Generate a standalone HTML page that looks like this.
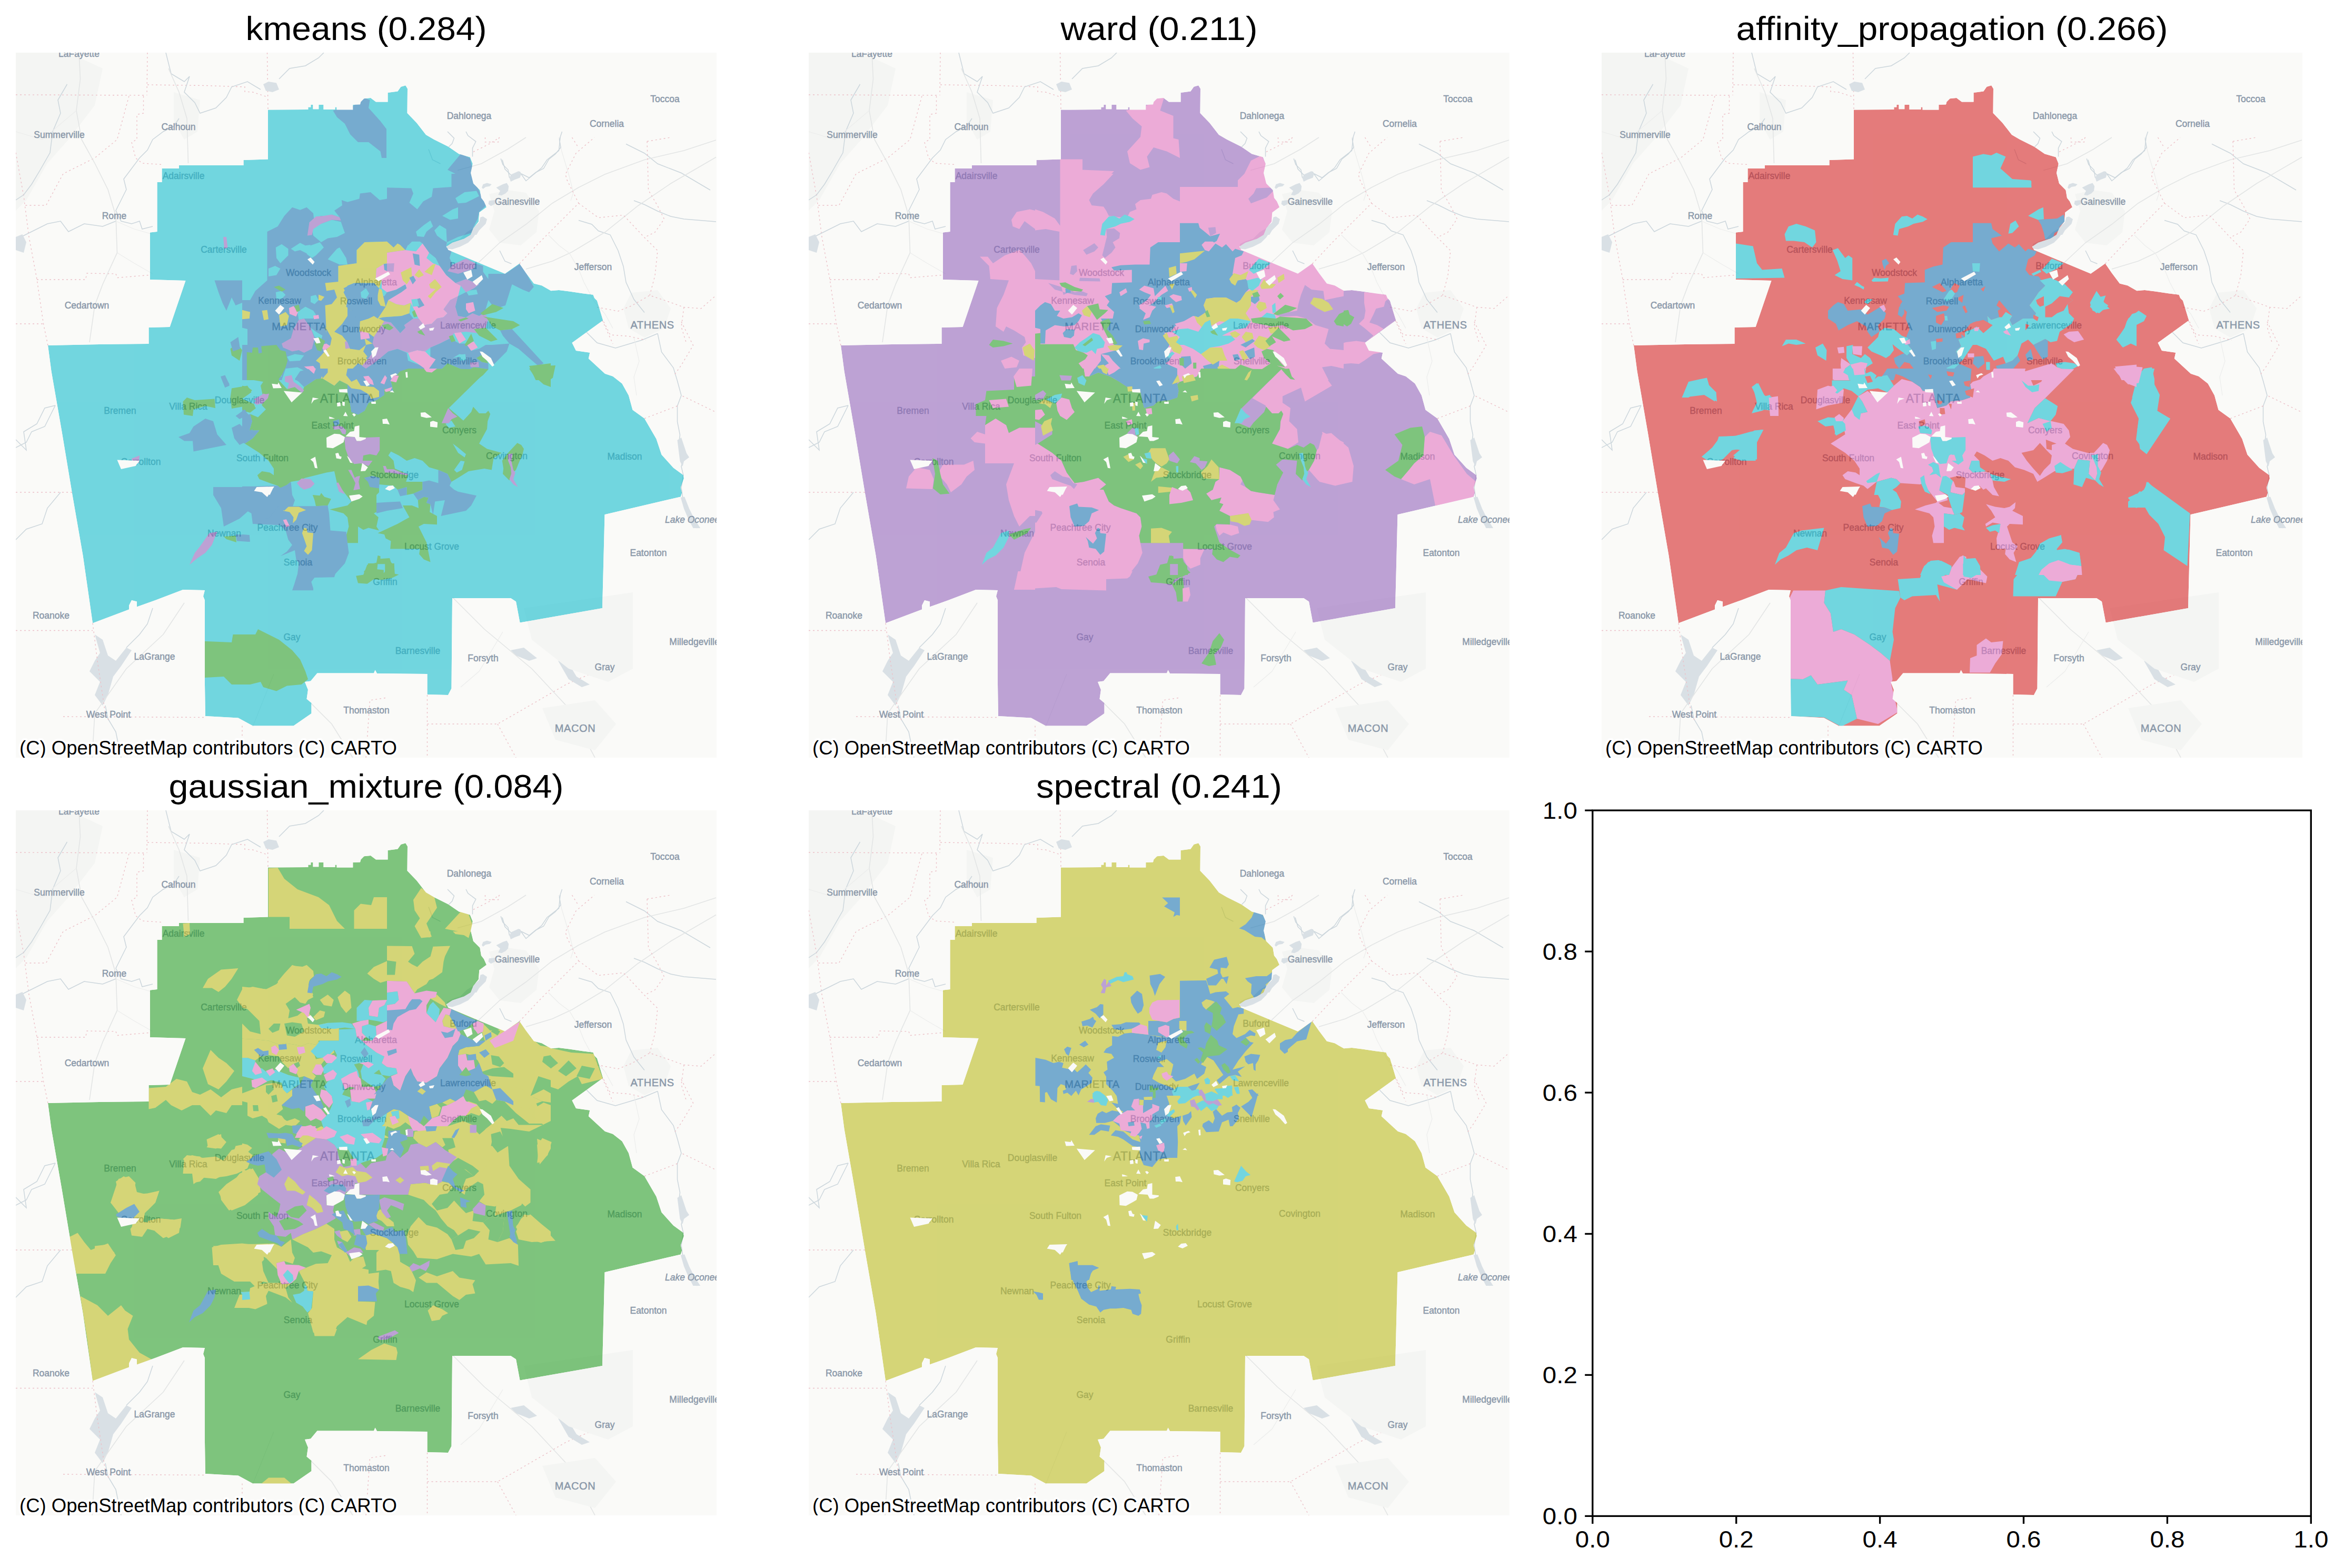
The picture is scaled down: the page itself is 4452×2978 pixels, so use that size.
<!DOCTYPE html>
<html><head><meta charset="utf-8"><title>clusters</title>
<style>html,body{margin:0;padding:0;background:#fff}svg{display:block}text{font-family:"Liberation Sans",sans-serif}.t{font-size:63px;fill:#000}.k{font-size:44px;fill:#000}.at{font-size:36px;fill:#000;stroke:#fff;stroke-width:8;paint-order:stroke;stroke-linejoin:round}.l{font-size:17.5px;fill:#8a98a9;stroke:#8a98a9;stroke-width:0.45;text-anchor:middle}.L{font-size:20px;fill:#8a98a9;stroke:#8a98a9;stroke-width:0.5;text-anchor:middle;letter-spacing:0.6px}.b{fill:none;stroke:#ecc0c7;stroke-width:1.4;stroke-dasharray:3 5}.r{fill:none;stroke:#e3e5e5;stroke-width:1.6}.r2{fill:none;stroke:#ecedec;stroke-width:1.2}.w{fill:none;stroke:#ccd6dc;stroke-width:1.5}.wf{fill:#d9e0e5;stroke:none}.u{fill:#f4f5f3;stroke:none}</style></head><body>
<svg width="4452" height="2978" viewBox="0 0 4452 2978">
<defs>
<clipPath id="cp"><rect x="0" y="0" width="1331" height="1339"/></clipPath>
<g id="bm" clip-path="url(#cp)">
<rect x="0" y="0" width="1331" height="1339" fill="#fafaf8"/>
<path class="u" d="M0 0 100 0 165 30 150 100 100 165 60 210 20 280 0 300Z"/>
<path class="u" d="M300 75 350 90 345 150 320 165 300 130Z"/>
<path class="b" d="M0 80 247.5 81"/>
<path class="b" d="M250 0 249 81"/>
<path class="b" d="M250 61 360 62.5 435 65 435 74 450 75 477.5 84"/>
<path class="b" d="M477.5 0 479 107.5"/>
<path class="b" d="M215 82.5 192.5 165 150 200 90 230 57.5 290 17.5 290"/>
<path class="b" d="M0 190 15 272.5 25 350 40 430 52.5 515 61 556"/>
<path class="b" d="M242.5 82.5 242.5 115 230 117.5 230 165 220 170 227.5 200 240 210 277.5 212.5"/>
<path class="b" d="M40 431 132.5 431 135 419 190 420 192.5 427.5 252.5 422.5"/>
<path class="b" d="M0 515 52.5 515"/>
<path class="w" d="M260 330 240 335 235 320 220 325 200 320 190 300 200 280 210 260 205 240 220 220 235 200 250 185 260 165 280 150 300 140 310 125"/>
<path class="w" d="M190 320 165 330 130 325 100 340 85 320 60 325 30 340 10 350"/>
<path class="w" d="M97.5 60 80 90 85 115 70 150 65 190 45 225 30 250 15 270 0 280"/>
<path class="w" d="M285 0 295 40 320 55 330 45 320 75 340 95 350 115 380 105 400 85 410 65 440 55 465 70"/>
<path class="w" d="M500 50 520 30 550 25 575 10 585 0"/>
<path class="wf" d="M470 60 480 55 495 57.5 500 70 487.5 75 475 72.5Z"/>
<path class="wf" d="M0 350 12.5 345 20 360 15 380 0 375Z"/>
<path class="w" d="M0 750 20 740 30 720 55 710 65 690 75 670"/>
<path class="r" d="M290 30 310 75 325 125 327.5 210"/>
<path class="r" d="M120 0 122.5 50 115 110 125 165 150 210 175 260 190 310 192.5 380 165 440 150 480 140 550"/>
<path class="r2" d="M190 320 225 335 260 345"/>
<path class="r2" d="M0 150 50 165 115 110"/>
<path class="r2" d="M192.5 380 225 400 260 420"/>
<path class="wf" d="M819 363.5 829 358.5 844 353.5 856.5 341 869 333.5 879 336 869 351 859 361 844 368.5 829 373.5 819 372.2Z"/>
<path class="u" d="M899 268.5 934 261 969 266 994 301 989 341 959 366 919 361 899 336 909 301Z"/>
<path class="u" d="M1169 456 1219 451 1244 486 1231.5 523.5 1194 541 1164 523.5 1154 486Z"/>
<path class="w" d="M924 203.5 929 221 941.5 233.5"/>
<path class="w" d="M956.5 226 969 243.5 984 231 999 218.5 1009 203.5 1031.5 186 1034 161"/>
<path class="w" d="M784 183.5 791.5 203.5 806.5 211"/>
<path class="w" d="M919 376 929 396 941.5 401"/>
<path class="w" d="M1069 318.5 1094 326 1106.5 338.5 1129 346 1144 376 1154 406 1159 436 1174 468.5 1194 493.5"/>
<path class="w" d="M1159 173.5 1194 191 1219 211 1264 228.5 1319 261"/>
<path class="w" d="M1174 281 1194 288.5 1219 301 1244 311 1269 316 1330 321"/>
<path class="r" d="M839 223.5 884 211 934 183.5 969 161"/>
<path class="r" d="M879 398.5 919 361 969 326 1019 286 1069 256 1119 231 1194 203.5 1269 186 1330 166"/>
<path class="r" d="M969 411 1019 396 1056.5 378.5 1119 341 1181.5 291 1244 248.5 1330 198.5"/>
<path class="r2" d="M1011.5 346 1031.5 366 1051.5 381 1069 411 1079 436 1099 473.5 1119 496 1134 523.5"/>
<path class="r2" d="M1031.5 161 1036.5 186 1051.5 236 1059 266 1054 281"/>
<path class="b" d="M891.5 161 891.5 169.8 916.5 169.8 917.8 161"/>
<path class="b" d="M869 188.5 899 173.5 919 161"/>
<path class="b" d="M956.5 401 994 361 1069 286 1046.5 241 1044 231 1064 191 1099 161"/>
<path class="b" d="M1069 286 1106.5 313.5 1154 308.5 1194 351 1219 376 1214 423.5 1204 461"/>
<path class="b" d="M1056.5 161 1069 181"/>
<path class="b" d="M1199 168.5 1201.5 261 1219 291 1231.5 316 1214 341 1194 351"/>
<path class="b" d="M1199 168.5 1244 161"/>
<path class="b" d="M1104 483.5 1144 491 1169 481 1204 461 1234 471 1269 483.5 1301.5 486 1330 461"/>
<path class="b" d="M1269 483.5 1264 521 1274 553"/>
<path class="b" d="M1114 508.5 1134 553"/>
<path class="w" d="M1219 533.5 1226.5 568.5 1249 598.5 1256.5 623.5 1264 651 1256.5 671 1256.5 701 1261.5 726 1259 743.5 1269 768.5 1264 786 1267.8 802.2 1264 826 1266.5 843.5 1274 866 1284 886 1294 903"/>
<path class="wf" d="M1256.5 736 1264 731 1274 761 1279 768.5 1269 776 1266.5 786 1261.5 776Z"/>
<path class="wf" d="M1262.8 844.8 1270.2 843.5 1279 866 1289 886 1300.2 903 1286.5 903 1276.5 883.5 1269 866Z"/>
<path class="w" d="M1084 531 1104 551 1139 561 1189 546 1219 533.5"/>
<path class="b" d="M1194 694.8 1256.5 671"/>
<path class="b" d="M1266.5 652.2 1331 683.5"/>
<path class="b" d="M1264 511 1286.5 556 1264 593.5 1251.5 611"/>
<path class="b" d="M1116.5 511 1129 536 1164 538.5 1196.5 546"/>
<path class="r2" d="M1174 541 1184 586 1174 616 1179 651"/>
<path class="wf" d="M150 1105 165 1115 175 1145 190 1155 210 1130 220 1135 200 1165 185 1185 175 1220 165 1240 150 1220 160 1195 140 1175 150 1155 160 1140Z"/>
<path class="w" d="M170 1240 175 1265 190 1290 200 1339"/>
<path class="w" d="M210 1130 235 1105 250 1085 260 1055"/>
<path class="b" d="M0 835 107.5 835"/>
<path class="b" d="M0 1097.5 146 1097.5"/>
<path class="b" d="M146 1083.5 155 1155 170 1255 177.5 1270"/>
<path class="b" d="M90 1261 360 1262.5"/>
<path class="b" d="M430 1278.5 430 1339"/>
<path class="b" d="M781.5 1220 781.5 1339"/>
<path class="b" d="M781.5 1275 915 1275 950 1255 1045 1200 1172 1145"/>
<path class="b" d="M915 1275 950 1339"/>
<path class="b" d="M1112.5 1055 1172 1047.5"/>
<path class="b" d="M665 1339 672.5 1230 705 1225"/>
<path class="w" d="M0 735 20 755 15 720 40 705 55 675 75 670"/>
<path class="w" d="M0 925 20 905 50 895 60 865 85 835"/>
<path class="wf" d="M940 1135 965 1130 990 1150 975 1155 950 1145Z"/>
<path class="wf" d="M1030 1155 1050 1160 1065 1185 1090 1200 1075 1205 1050 1190Z"/>
<path class="r" d="M145 1339 150 1255 210 1170 280 1105 320 1045"/>
<path class="r" d="M560 1235 600 1275 640 1339"/>
<path class="r" d="M830 1035 890 1095 980 1170 1050 1245 1100 1339"/>
<path class="r2" d="M450 1280 480 1205 490 1180"/>
<path class="r2" d="M845 1205 880 1175 925 1100"/>
<path class="u" d="M965 1055 1172 1025 1172 1170 1125 1195 1050 1170 980 1115Z"/>
<path class="u" d="M1000 1245 1100 1230 1140 1275 1100 1325 1025 1305Z"/>
<path class="wf" d="M870 331.2 880 322.5 882.5 312.5 887.5 311.2 895 316.2 892.5 325 887.5 330 880 337.5 875 346 862.5 346Z"/>
<path class="wf" d="M887.5 250 895 247.5 903.8 250 900 253.8 892.5 255 887.5 258.8 885 256.2Z"/>
<path class="wf" d="M912.5 256.2 925 250 932.5 247.5 936.2 253.8 935 262.5 930 267.5 922.5 271.2 916.2 270 920 262.5Z"/>
<path class="wf" d="M941.2 231.2 955 225 960 230 957.5 237.5 947.5 241.2 940 245 937.5 237.5Z"/>
<path class="wf" d="M898.8 281.2 910 280 910 287.5 902.5 291.2 897.5 287.5Z"/>
<path class="w" d="M960 230 975 237.5 987.5 227.5 1002.5 220 1012.5 202.5 1025 192.5 1035 180 1032.5 165 1037.5 150"/>
<path class="w" d="M937.5 237.5 935 222.5 925 212.5 921.2 201.2"/>
<path class="w" d="M855 150 858.8 157.5 873.8 168.8 867.5 181.2 867.5 197.5"/>
<path class="w" d="M820 150 832.5 162.5 828.8 172.5 822.5 178.8"/>
<text class="l" x="120" y="8">LaFayette</text>
<text class="l" x="82.5" y="162">Summerville</text>
<text class="l" x="309" y="147">Calhoun</text>
<text class="l" x="861" y="126">Dahlonega</text>
<text class="l" x="1122.5" y="140.5">Cornelia</text>
<text class="l" x="1233" y="93.5">Toccoa</text>
<text class="l" x="318.5" y="239.5">Adairsville</text>
<text class="l" x="187" y="316">Rome</text>
<text class="l" x="952.5" y="289">Gainesville</text>
<text class="l" x="395" y="380">Cartersville</text>
<text class="l" x="1096.5" y="413">Jefferson</text>
<text class="l" x="556" y="424">Woodstock</text>
<text class="l" x="850" y="410.5">Buford</text>
<text class="l" x="684" y="442">Alpharetta</text>
<text class="l" x="135" y="485.5">Cedartown</text>
<text class="l" x="501" y="477">Kennesaw</text>
<text class="l" x="646.5" y="477.5">Roswell</text>
<text class="L" x="538.5" y="526.5">MARIETTA</text>
<text class="l" x="661" y="531">Dunwoody</text>
<text class="l" x="859" y="523.5">Lawrenceville</text>
<text class="L" x="1209" y="524">ATHENS</text>
<text class="l" x="657.5" y="591.5">Brookhaven</text>
<text class="l" x="841.5" y="592">Snellville</text>
<text class="l" x="425" y="665.5">Douglasville</text>
<text class="L" x="630" y="665" style="font-size:23px">ATLANTA</text>
<text class="l" x="198" y="685.5">Bremen</text>
<text class="l" x="327.5" y="678">Villa Rica</text>
<text class="l" x="601.5" y="714">East Point</text>
<text class="l" x="842.5" y="723">Conyers</text>
<text class="l" x="468.5" y="775.5">South Fulton</text>
<text class="l" x="932.5" y="771.5">Covington</text>
<text class="l" x="1156.5" y="772.5">Madison</text>
<text class="l" x="237.5" y="783">Carrollton</text>
<text class="l" x="719" y="807.5">Stockbridge</text>
<text class="l" x="516" y="908">Peachtree City</text>
<text class="l" x="396" y="918.5">Newnan</text>
<text class="l" x="790" y="943.5">Locust Grove</text>
<text class="l" x="1285" y="893" font-style="italic">Lake Oconee</text>
<text class="l" x="1201.5" y="956">Eatonton</text>
<text class="l" x="536" y="974">Senoia</text>
<text class="l" x="701.5" y="1011">Griffin</text>
<text class="l" x="67" y="1075">Roanoke</text>
<text class="l" x="524.5" y="1115.5">Gay</text>
<text class="l" x="763.5" y="1141.5">Barnesville</text>
<text class="l" x="263.5" y="1153">LaGrange</text>
<text class="l" x="887.5" y="1156">Forsyth</text>
<text class="l" x="1118.5" y="1173">Gray</text>
<text class="l" x="1289" y="1124.5">Milledgeville</text>
<text class="l" x="666" y="1255">Thomaston</text>
<text class="l" x="176" y="1262.5">West Point</text>
<text class="L" x="1062.5" y="1289.5">MACON</text>
</g>
<path id="ol" d="M61 556 159 554 252.5 553 252.5 522 292.5 521 322.5 433 255 431 255 341.5 268.5 340 268.5 246 277.5 246 277.5 220 310 220 310 214 432.5 214 432.5 204 479 202.5 479 108.5 555.3 108 555.3 103.5 560.3 103.5 560.3 99 564.5 99 564.5 107.3 575.3 107.3 575.3 99 584.5 99 584.5 108 606.5 108 606.5 103.5 609.5 103.5 609.5 108.5 640.3 108.5 640.3 99 654 98.5 655.3 93.5 661.5 87.3 674 86 684 93.5 706.5 93.5 706.5 76 725.3 73.5 731.5 64.8 740.3 62.3 744 68.5 743.5 114.8 761.5 133.5 779 156 794 164.8 821.5 178.5 841.5 192.3 862.8 198.5 867.8 211 864 228.5 869 248.5 881.5 261 884 276 889 282.3 894 293.5 880.3 303.5 879 321 869 333.5 864 346 851.5 353.5 829 361 817.8 368.5 821.5 374.8 884 401 929 419.8 956.5 400.5 969 418.5 984 438.5 999 442.3 1016.5 452.3 1031.5 451 1051.5 453.5 1076.5 457.3 1096.5 459.8 1099 466 1104 471 1115.3 508.5 1056.5 551 1064 566 1090.3 569.8 1087.8 581 1119 609.8 1134 614.8 1151.5 628.5 1164 651 1171.5 678.5 1194 694.8 1216.5 733.5 1226.5 763.5 1249 788.5 1267.8 802.3 1269 808.5 1262.8 826 1265.3 836 1262.8 843.5 1118.5 877.3 1114 1055 957.5 1082.5 950 1042.5 940 1036 829 1036 827.5 1207.5 821 1220 781.5 1219 781.5 1180 686 1179 682.5 1172.5 680 1178.5 572.5 1178.5 560 1193.5 549 1195 555 1210 552.5 1227.5 561.5 1235 561.5 1255 527.5 1278.5 450 1278.5 422.5 1263.5 360 1260 359 1200 359 1040 356 1032.5 359 1021 317.5 1020 265 1040 230 1052.5 230 1042.5 220 1040 215 1050 215 1057.5 146 1083.5 127.5 955 107.5 840 87.5 720 67.5 605Z"/>
<clipPath id="co"><use href="#ol"/></clipPath>
<path id="ho" fill="#fafaf8" d="M492.5 490 502.5 479 510 485 500 497.5ZM554 392.5 560 389 567.5 397.5 564 402.5ZM682.5 429 707.5 416 711 421 689 434ZM850 417.5 865 412.5 867.5 425 857.5 431ZM867.5 435 885 422.5 887.5 430 875 442.5ZM192.5 773.5 235 775 227.5 785 200 791ZM452.5 832.5 457.5 825 491 824 477.5 844 467.5 835ZM565 542.5 575 541.2 578.8 551.2 571.2 552.5ZM583.8 566.2 588.8 563.8 596.2 576.2 592.5 577.5ZM675 567.5 682.5 560 688.8 559.5 683.8 575 677.5 580ZM765 521.2 773.8 513.8 777.5 521.2 768.8 525.8ZM785 523.8 795 522 792.5 527.5 786.2 528ZM881.2 567.5 886.2 568 902.5 580 908.8 593.8 905 596.2 895 585 886.2 577.5ZM711.2 612.5 721.2 608.8 725 611.2 717.5 613.8 713.8 618.8ZM740 607 743.8 606.2 744.5 617 741.2 617.5ZM660 623.8 666.2 622.5 672.5 631.2 666.2 633.8ZM710 644.5 715 641.2 718.8 645.5ZM486.2 628.8 497.5 630 498.8 626.2 505 637 488.8 637.5ZM508.8 642.5 543.8 645.5 523.8 664.2ZM563.8 655 575.5 657 566.2 660 561.2 667ZM613.8 639.5 629.5 638.8 630 645.8 614.5 645ZM610 665 616.2 663.8 617 671.2 610.5 672ZM620 662.5 625 663.8 624.5 671.2 620.5 670ZM675 663 683.8 662.5 683.8 667 675.5 667ZM622 690 626.2 682 630.5 690.5ZM638.8 686.2 642.5 685 646.2 688 642.5 691.2ZM595 691.2 600 692.5 606.2 695 595.5 695.5ZM696.2 696.2 705 695 710 706.2 703.8 705 697 705ZM768.8 683.8 777.5 683 790 692.5 780 693.8 769.5 691.2ZM787 701.2 792.5 699.2 801.2 702 800.5 712 787 710.5ZM590 731.2 605 723.8 615 724.5 625 730 622.5 740 616.2 743.8 602.5 751.2 590.5 750ZM626.2 728.8 635 720 642.5 718.8 643.8 710 652.5 708 652.5 730 665 731.2 664.5 733.8 655 737.5 647.5 737.5 643.8 730ZM607 761.2 612.5 760 615 766.2 618.8 767.5 617.5 772 608.8 770.5ZM628.8 765.5 632.5 768.8 640 779.5 635 778.8ZM559.5 772.5 568.8 767.5 573 789.5 568 788.8 565 777.5ZM655 795 658 779.5 668.8 787.5 663.8 794.5ZM701.2 828.8 707.5 823 716.2 822 720 827 710 832ZM633 841.2 652.5 838.8 658.8 843 652.5 847.5 637.5 852.5ZM480 824.5 490 824.5 482.5 840 480 838.8Z"/>
</defs>
<rect width="4452" height="2978" fill="#fff"/>
<g transform="translate(30 100)">
<use href="#bm"/>
<g opacity="0.6" clip-path="url(#co)">
<use href="#ol" fill="#17becf"/>
<path fill="#1f77b4" d="M477.5 340 497.5 330 510 310 525 293.8 540 298.8 552.5 293.8 565 305 566.2 315 580 310 597.5 312.5 600 307.5 615 312.5 605 300 620 290 618.8 280 630 283.8 652.5 277.5 653.8 267.5 673.8 265 682.5 272.5 691.2 280 705 277.5 705 256.2 751.2 257.5 755 267.5 747.5 285 762.5 297.5 773.8 282.5 790 273.8 792.5 257.5 827.5 255 827.5 230 865 230 880 262.5 887.5 280 893.8 290 880 302.5 877.5 315 870 330 865 342.5 840 350 818.8 360 817.5 368.8 827.5 377.5 823.8 390 830 402.5 820 415 805 405 797.5 390 785 380 772.5 362.5 760 375 745 365 740 375 705 380 705 358.8 662.5 360 647.5 375 647.5 400 612.5 405 612.5 435 577.5 435 477.5 432.5ZM455 452.5 477.5 432.5 577.5 435 612.5 435 615 450 622.5 455 630 442.5 642.5 437.5 680 437.5 690 447.5 687.5 460 700 462.5 705 455 722.5 450 740 440 742.5 447.5 732.5 455 707.5 470 702.5 482.5 687.5 480 687.5 505 697.5 502.5 732.5 500 747.5 495 755 505 737.5 517.5 740 522.5 730 532.5 712.5 512.5 700 510 680 540 705 555 707.5 567.5 725 562.5 742.5 570 745 585 785 600 805 605 780 622 430 622 430 555 440 555 440 525 430 522.5 430 470 445 470ZM805 405 820 415 830 402.5 855 391.2 872.5 400 887.5 405 887.5 416.2 897.5 430 897.5 420 930 420 957.5 401.2 970 420 983.8 445 975 455 962.5 450 942.5 440 930 480 915 485 905 480 897.5 470 890 495 880 500 867.5 495 855 502.5 840 500 835 482.5 840 462.5 855 455 870 447.5 880 440 855 430 835 437.5 817.5 422.5ZM787.5 560 805 552.5 825 542.5 842.5 552.5 855 552.5 865 566.2 880 562.5 892.5 575 875 580 855 575 842.5 572.5 830 580 797.5 582.5 787.5 577.5ZM920 527.5 942.5 525 1002.5 590 992.5 595 975 580 955 562.5 937.5 552.5 925 537.5ZM905 555 937.5 552.5 932.5 567.5 907.5 592.5 892.5 575 880 562.5 892.5 555ZM787.5 577.5 830 580 855 575 875 580 885 587.5 897.5 590 897.5 601.2 870 597.5 855 605 820 590 805 605 785 600Z"/>
<path fill="#17becf" d="M557.5 322.5 566.2 315 580 325 600 317.5 617.5 321.2 625 342.5 610 350 592.5 352.5 580 360 565 347.5 562.5 335ZM522.5 372.5 540 361.2 550 366.2 560 365 555 382.5 540 375 530 377.5ZM493.8 370 505 363.8 517.5 372.5 517.5 385 502.5 400 495 390ZM552.5 382.5 560 366.2 577.5 360 585 370 570 385 562.5 390ZM592.5 392.5 610 372.5 615 370 627.5 390 630 402.5 615 402.5ZM480 410 492.5 405 502.5 410 495 422.5 480 425ZM760 340 775 327.5 787.5 318.8 792.5 330 780 340 775 350 762.5 348.8ZM795 337.5 805 327.5 817.5 335 818.8 360 810 355 800 347.5ZM810 310 830 297.5 840 293.8 840 315 825 317.5ZM835 276.2 852.5 265 875 262.5 880 272.5 855 285 840 286.2ZM746.2 365 752.5 358.8 767.5 358.8 772.5 362.5 760 377.5 752.5 375ZM493.8 455 505 452.5 512.5 460 505 467.5 495 467.5ZM560 462.5 570 460 575 470 567.5 477.5 560 473.8ZM535 492.5 550 482.5 565 490 570 497.5 565 505 547.5 505 537.5 507.5ZM560 522.5 570 530 582.5 537.5 580 545 567.5 540ZM515 577.5 530 572.5 547.5 575 540 585 520 586.2ZM512.5 600 535 597.5 550 605 540 615 530 622 505 622ZM493.8 598.8 503.8 597.5 505 615 495 613.8ZM842.5 573.8 853.8 572.5 855 583.8 843.8 585ZM855 452.5 875 450 877.5 458.8 860 461.2Z"/>
<path fill="#bcbd22" d="M647.5 375 662.5 360 705 358.8 717.5 370 725 362.5 730 365 740 375 705 380 705 400 697.5 402.5 685 410 683.8 427.5 695 432.5 690 447.5 680 437.5 642.5 437.5 630 442.5 622.5 455 615 450 612.5 435 612.5 405 647.5 400ZM612.5 435 622.5 455 630 470 627.5 482.5 637.5 490 630 500 620 515 605 530 590 532.5 587.5 480 600 477.5 610 465 605 450 590 452.5 587.5 437.5ZM587.5 520 590 532.5 605 530 620 537.5 630 550 635 562.5 652.5 565 665 555 662.5 542.5 677.5 552.5 680 565 665 580 675 590 665 597.5 650 590 635 605 630 622 580 622 577.5 590 570 585 580 575 597.5 555 600 542.5ZM687.5 447.5 695 450 702.5 482.5 695 485 687.5 470ZM707.5 470 722.5 477.5 737.5 480 750 475 747.5 495 732.5 500 697.5 502.5 687.5 505 680 500 702.5 482.5ZM653.8 510 670 505 680 500 700 510 680 540 670 532.5 652.5 530ZM430 488.8 445 492.5 443.8 505 430 506.2ZM467.5 490 477.5 488.8 480 506.2 471.2 508ZM500 498.8 512.5 492.5 518.8 500 515 517.5 502.5 520ZM575 459.5 586.2 463.8 580 471.2 575 470Z"/>
<path fill="#e377c2" d="M705 380 740 375 760 377.5 772.5 362.5 785 380 780 390 792.5 400 805 405 817.5 422.5 835 437.5 845 442.5 840 462.5 825 470 812.5 487.5 820 495 812.5 502.5 800 505 790 515 775 517.5 765 505 757.5 490 750 475 737.5 480 722.5 477.5 707.5 470 732.5 455 742.5 447.5 740 440 722.5 450 705 455 695 447.5 695 432.5 683.8 427.5 685 410 697.5 402.5 705 400ZM855 476.2 868.8 473.8 872.5 490 860 495 855 487.5ZM745 570 762.5 565 777.5 567.5 787.5 577.5 797.5 582.5 785 600 805 605 792.5 610 780 602.5 762.5 590 750 582.5ZM653.8 528.8 670 532.5 672.5 542.5 655 545ZM832.5 532.5 845 530 855 545 842.5 552.5ZM855 552.5 870 548.8 877.5 560 865 566.2ZM518.8 485 527.5 481.2 536.2 492.5 532.5 501.2 520 496.2ZM565 499.5 575 498 576.2 505 566.2 506.2ZM578.8 555 590 552.5 597.5 557.5 585 566.2ZM547.5 596.2 565 595 572.5 605 570 622 555 622 560 605Z"/>
<path fill="#bcbd22" d="M731.2 417.5 751.2 407.5 752.5 425 742.5 440 735 432.5ZM757.5 422.5 766.2 411.2 775 422.5 765 427.5ZM776.2 416.2 791.2 402.5 797.5 401.2 790 422.5ZM785 440 796.2 430 808.8 445 797.5 455 787.5 467.5 782.5 462.5 797.5 448.8 787.5 447.5Z"/>
<path fill="#9467bd" d="M680 540 700 510 712.5 512.5 730 532.5 740 522.5 737.5 517.5 755 505 765 505 775 517.5 790 515 800 505 812.5 502.5 820 495 812.5 487.5 825 470 840 462.5 835 482.5 840 500 855 502.5 867.5 495 880 500 890 495 897.5 505 892.5 522.5 897.5 530 875 532.5 855 530 832.5 532.5 825 542.5 805 552.5 787.5 560 777.5 567.5 762.5 565 745 570 725 562.5 707.5 567.5 705 555ZM680 540 705 555 707.5 567.5 692.5 580 680 590 665 600 657.5 595 670 580 682.5 562.5 677.5 552.5ZM820 415 830 402.5 855 391.2 872.5 400 870 410 855 415 840 420ZM835 437.5 855 430 880 440 870 447.5 855 455 845 442.5ZM527.5 525 537.5 507.5 547.5 505 560 522.5 567.5 542.5 562.5 562.5 547.5 570 537.5 565 525 567.5 507.5 560 505 552.5 522.5 542.5ZM553.8 347.5 557.5 322.5 570 311.2 585 310 600 307.5 615 312.5 617.5 318.8 600 317.5 580 325 565 335 562.5 346.2ZM705 400.5 718.8 400 717.5 416.2 705 415ZM862.5 588.8 878.8 587.5 880 597 863.8 597.5ZM625 548.8 633.8 547.5 635 561.2 626.2 562.5Z"/>
<path fill="#2ca02c" d="M438.8 568.8 448.8 570 450 560 460 560 461.2 571.2 467.5 570 466.2 557.5 495 555 502.5 565 512.5 567.5 516.2 585 512.5 597.5 505 612.5 497.5 622 438.8 622ZM725 615 745 602.5 805 605 820 590 855 605 870 597.5 897.5 601.2 887.5 612.5 875 622 717.5 622ZM882.5 495 905 477.5 926.2 485 912.5 492.5 887.5 498.8ZM887.5 501.2 945 510 957.5 517.5 942.5 525 920 527.5 905 520 895 505ZM870 525 892.5 522.5 912.5 542.5 915 545 902.5 548.8 880 537.5ZM852.5 555 865 533.8 870 547.5 855 557.5ZM875 580 887.5 572.5 897.5 590 885 587.5ZM975 595 1016 590 1016 622 987.5 622ZM490 445 500 442.5 512.5 450 505 453.8ZM528.8 481.2 537.5 478.8 540 490 533.8 492.5ZM567.5 552.5 575 540 587.5 547.5 580 567.5 572.5 565ZM695 517.5 707.5 515 717.5 522.5 710 527.5 700 523.8ZM762.5 530 770 526.2 777.5 537.5 766.2 533.8ZM822.5 538.8 830 536.2 835 547.5 827.5 550ZM752.5 492.5 757.5 488.8 762.5 501.2 756.2 502.5ZM840 507.5 855 503 860 505 845 510.5ZM651.2 488.8 658.8 487.5 660 498.8 652.5 500Z"/>
<path fill="#1f77b4" d="M622.5 447.5 637.5 440 655 442.5 680 437.5 690 447.5 687.5 460 677.5 470 670 477.5 652.5 480 642.5 467.5 630 460ZM630 482.5 637.5 490 650 486.2 670 477.5 690 480 702.5 482.5 687.5 505 680 500 670 505 653.8 510 651.2 500 637.5 505 630 500ZM753.8 381.2 766.2 383.8 767.5 405 757.5 402.5ZM747.5 427.5 755 423.8 760 432.5 753.8 440ZM755 470 767.5 466.2 776.2 480 765 485ZM698.8 401.2 705 400.5 705 415 700 412.5ZM620 537.5 635 525 650 530 652.5 545 647.5 555 635 562.5 630 550ZM665 555 677.5 552.5 682.5 562.5 670 580 660 567.5ZM725 517.5 737.5 517.5 740 522.5 730 532.5ZM840 462.5 855 455 860 461.2 855 476.2 855 487.5 860 495 855 502.5 840 500 835 482.5Z"/>
<path fill="#17becf" d="M655 455 665 447.5 671.2 457.5 665 467.5 656.2 465ZM751.2 468.8 762.5 467.5 766.2 481.2 753.8 482.5Z"/>
<path fill="#2ca02c" d="M438.8 600 496.2 600 500 622.5 515 638.8 530 635 543.8 646.2 547.5 635 570 620 582.5 618.8 605 632.5 615 622.5 630 630 630 642.5 635 667.5 637.5 682.5 650 687.5 662.5 680 670 665 685 660 700 650 700 637.5 717.5 645 712.5 625 730 605 745 600 897.5 601.2 822.5 675 840 690 850 698.8 865 682.5 868.8 672.5 880 685 892.5 685 897.5 680 901.2 686.2 896.2 700 895 715 880 742.5 895 752.5 922.5 760 907.5 770 903.8 792.5 890 790 860 795 840 807.5 827.5 815 820 800 802.5 792.5 785 787.5 772.5 775 757.5 770 742.5 775 727.5 765 712.5 757.5 707.5 765 717.5 775 720 790 737.5 797.5 745 802.5 741.2 815 772.5 815 772.5 830 755 837.5 742.5 840 742.5 825 725 830 717.5 822.5 690 820 690 835 685 840 685 872.5 680 875 688.8 882.5 685 900 690 907.5 670 902.5 660 906.2 650 900 650 931.2 630 931.2 627.5 917.5 632.5 900 630 882.5 622.5 875 596.2 867.5 630 860 637.5 852.5 627.5 840 610 817.5 605 795 590 797.5 550 807.5 537.5 812.5 522.5 815 505 828.8 497.5 822.5 482.5 817.5 462.5 810 458.8 802.5 467.5 795 482.5 797.5 490 802.5 490 790 480 775 462.5 760 435 742.5 450 732.5 462.5 717.5 443.8 717.5 448.8 700 445 686.2 460 692.5 475 677.5 467.5 670 468.8 650 465 632.5 470 625 440 620ZM687.5 912.5 725 895 747.5 882.5 735 860 752.5 860 765 865 763.8 850 775 843.8 783.8 845 780 855 787.5 857.5 786.2 872.5 800 880 800 896.2 775 895 765 900 780 930 787.5 967.5 775 962.5 766.2 952.5 767.5 942.5 711.2 942.5 712.5 927.5 702.5 922.5 700 915ZM563.8 840 577.5 841.2 580 836.2 586.2 843.8 598.8 847.5 592.5 860 570 861.2 567.5 850ZM667.5 972.5 685 968.8 687.5 955 692.5 956.2 692.5 961.2 710 960 712.5 967.5 718.8 975 720 992 660 992ZM923.8 775 935 760 952.5 741.2 960 745 965 752.5 962.5 762.5 955 780 950 792.5 941.2 800 937.5 812.5 925 800 926.2 790ZM977.5 600 1016 600 1016 635 1002.5 630 990 615ZM430 632.5 440 635 448.8 641.2 440 650 430 648.8ZM430 670 448.8 668.8 456.2 675 445 683.8 430 680Z"/>
<path fill="#17becf" d="M830 742.5 840 750 855 762.5 852.5 768.8 840 760ZM845 775 852.5 776.2 847.5 792.5 837.5 797.5 832.5 792.5ZM816.2 705 827.5 698.8 835 710 822.5 712.5ZM686.2 971.2 701.2 971.2 701.2 992 686.2 992Z"/>
<path fill="#1f77b4" d="M530 620 540 605 560 600 590 600 580 617.5 570 620 547.5 635 537.5 625ZM580 600 745 600 730 605 712.5 625 717.5 645 700 637.5 700 650 685 660 670 665 662.5 680 650 687.5 637.5 682.5 635 667.5 630 642.5 630 630 615 622.5 605 632.5 582.5 618.8ZM630 642.5 637.5 637.5 655 640 690 642.5 700 637.5 700 650 685 660 670 665 662.5 680 650 687.5 637.5 682.5 635 667.5ZM602.5 700 613.8 696.2 615 705 606.2 710ZM430 677.5 442.5 687.5 445 686.2 448.8 700 443.8 717.5 462.5 717.5 450 732.5 435 742.5 430 740ZM430 823.8 453.8 823.8 490 822.5 497.5 822.5 505 828.8 522.5 815 525 840 530 850 526.2 861.2 570 861.2 592.5 860 595 875 597.5 907.5 627.5 910 630 931.2 632.5 950 625 970 605 992 537.5 992 542.5 975 532.5 962.5 530 945 502.5 956.2 515 947.5 525 935 517.5 925 512.5 907.5 502.5 897.5 450 895 447.5 875 430 865ZM430 915 443.8 916.2 445 928.8 430 927.5ZM661.2 807.5 677.5 803.8 691.2 807.5 690 827.5 672.5 825 668.8 815ZM685 855 705 853.8 730 852.5 735 865 705 870 685 875ZM802.5 792.5 820 800 827.5 815 823.8 822.5 832.5 830 840 833.8 875 841.2 865 860 855 870 807.5 880 815 850 796.2 852.5 792.5 877.5 787.5 857.5 780 855 783.8 845 775 843.8 763.8 850 755 837.5 772.5 830 772.5 815 785 812.5 802.5 817.5ZM725 830 742.5 825 742.5 840 730 842.5Z"/>
<path fill="#bcbd22" d="M507.5 870 517.5 862.5 537.5 862.5 551.2 868.8 537.5 873.8 532.5 887.5 526.2 893.8 527.5 882.5 520 872.5ZM543.8 912.5 547.5 902.5 552.5 903.8 553.8 911.2 565 912.5 562.5 945 555 953.8 547.5 946.2 552.5 937.5ZM582.5 618.8 592.5 607.5 592.5 600 630 600 627.5 612.5 637.5 625 647.5 620 655 632.5 680 635 690 642.5 690 653.8 675 657.5 670 648.8 655 640 637.5 637.5 630 630 615 622.5 605 632.5Z"/>
<path fill="#e377c2" d="M555 600 570 600 566.2 610ZM775 600 800 600 790 607.5 780 606.2ZM660 615 670 613.8 677.5 622.5 680 631.2 667.5 627.5ZM692.5 627.5 701.2 612.5 705 617.5 700 630ZM711.2 623.8 717.5 612.5 727.5 613.8 722.5 626.2ZM700 640 715 635 711.2 642.5 702.5 644.5ZM507.5 887.5 513.8 886.2 520 898.8 513.8 901.2Z"/>
<path fill="#9467bd" d="M511.2 615 523.8 612.5 527.5 625 540 633.8 547.5 641.2 543.8 646.2 530 635 516.2 638.8 518.8 627.5 511.2 625ZM451.2 658.8 467.5 650 481.2 647.5 478.8 656.2 467.5 667.5 457.5 661.2ZM623.8 730 645 730 647.5 737.5 656.2 737.5 657.5 731.2 691.2 730 691.2 755 685 765 672.5 762.5 660 765 658.8 775 677.5 775 670 785 655 780 642.5 781.2 632.5 770 626.2 752.5ZM601.2 710 612.5 708.8 620 710 627.5 717.5 626.2 725 620 723.8 615 715 605 716.2ZM808.8 703.8 821.2 675 830 685 838.8 691.2 827.5 696.2 822.5 703.8ZM533.8 817.5 542.5 808.8 560 810 567.5 818.8 560 826.2 547.5 830 540 825ZM697.5 785 702.5 785 705 791.2 717.5 791.2 732.5 797.5 745 800 743.8 802.5 725 800 710 797.5 701.2 797.5ZM631.2 792.5 637.5 792.5 643.8 807.5 647.5 805 653.8 803.8 651.2 815 653.8 828.8 641.2 831.2 645 817.5 640 807.5ZM608.8 817.5 612.5 816.2 620 830 625 838.8 613.8 833.8ZM935 762.5 943.8 761.2 941.2 775 945 792.5 948.8 797.5 945 810 953.8 825 945 820 937.5 810 941.2 800 940 787.5 935 775Z"/>
<path fill="#1f77b4" d="M537.5 970 618.8 970 610 977.5 605 996.2 567.5 997 561.2 1005 565 1017.5 565 1021.2 525 1021.2 528.8 1010 535 990Z"/>
<path fill="#2ca02c" d="M646.2 993.8 662.5 991.2 661.2 985 670 977.5 668.8 970 687.5 970 686.2 981.2 698.8 982.5 698.8 988.8 705 980 703.8 970 718.8 970 718.8 982.5 715 988.8 727.5 991.2 715 997.5 695 1001.2 680 1000 667.5 1008.8 650 1007.5ZM350 1117.5 410 1120 412.5 1105 455 1105 460 1095 500 1115 525 1135 540 1152.5 550 1175 555 1190 542.5 1200 515 1202.5 495 1212.5 470 1205 465 1195 445 1200 410 1200 395 1185 350 1187.5Z"/>
<path fill="#1f77b4" d="M309 730 330 722.5 337.5 710 360 695 375 700 382.5 725 400 745 375 750 337.5 757.5 336 737.5 320 737.5ZM410 712.5 425 705 440 720 450 715 445 735 425 745 415 732.5ZM375 825 452.5 825 500 827.5 522.5 817.5 522.5 840 530 850 510 870 500 860 480 885 450 880 445 867.5 425 885 395 900 390 865 375 840ZM417.5 915 444 916 444 929 420 927.5Z"/>
<path fill="#9467bd" d="M330 972.5 340 950 350 937.5 367.5 912.5 382.5 910 372.5 935 360 950 345 960Z"/>
<path fill="#2ca02c" d="M395 919 417.5 917.5 419 930 400 924ZM317.5 662.5 325 655 340 660 377.5 657.5 379 675 360 671 337.5 677.5 336 690 319 687.5ZM410 637.5 440 632.5 447.5 645 430 657.5 452.5 667.5 455 675 430 672.5 410 676 407.5 655ZM407.5 562.5 420 552.5 430 565 425 585 410 575Z"/>
<path fill="#1f77b4" d="M389 615 397.5 612.5 406 632.5 397.5 636Z"/>
<path fill="#9467bd" d="M452.5 665 470 647.5 480 650 470 665 457.5 669Z"/>
<path fill="#1f77b4" d="M417.5 690 435 677.5 441 687.5 425 696Z"/>
<path fill="#9467bd" d="M220 771 235 765 234 779 222.5 780Z"/>
<path fill="#1f77b4" d="M602.5 110 642.5 100 660 85 672.5 90 670 105 692.5 130 704 145 704 200 695 200 692.5 187.5 670 170 650 170 635 155 625 135 610 122.5ZM820 222.5 845 192.5 862.5 200 867.5 220 870 245 850 240 835 230ZM377.5 432.5 430 432.5 430 475 417.5 480 410 465 400 490 392.5 475 385 455ZM390 617.5 397.5 614 406 630 397.5 636ZM407.5 550 422.5 540 426 562.5 412.5 567.5Z"/>
<path fill="#2ca02c" d="M975 600 1000 595 1025 594 1020 617.5 1002.5 630 985 615Z"/>
<path fill="#9467bd" d="M394 350 400 350 402.5 370 396 372.5Z"/>
</g>
<use href="#ho"/>
<g clip-path="url(#cp)"><text class="at" x="7" y="1332.5" textLength="717" lengthAdjust="spacingAndGlyphs">(C) OpenStreetMap contributors (C) CARTO</text></g>
</g>
<text class="t" x="695.5" y="75.5" text-anchor="middle" textLength="458" lengthAdjust="spacingAndGlyphs">kmeans (0.284)</text>
<g transform="translate(1536 100)">
<use href="#bm"/>
<g opacity="0.6" clip-path="url(#co)">
<use href="#ol" fill="#9467bd"/>
<path fill="#e377c2" d="M385 317.5 395 302.5 420 297.5 430 300 430 335 410 320 400 335 387.5 330ZM325 387.5 340 387.5 350 400 372.5 385 400 375 410 385 422.5 400 430 415 430 580 407.5 575 405 560 412.5 550 410 540 390 527.5 375 520 370 530 355 520 357.5 485 370 460 380 432.5 345 430 342.5 405Z"/>
<path fill="#2ca02c" d="M342.5 555 350 545 370 547.5 387.5 552.5 370 557.5 350 560Z"/>
<path fill="#bcbd22" d="M406 560 420 552.5 429 565 427.5 585 410 575Z"/>
<path fill="#e377c2" d="M365 585 385 577.5 400 585 395 597.5 372.5 600ZM602.5 110 642.5 100 657.5 87.5 675 85 667.5 110 692.5 120 692.5 162.5 702.5 165 705 200 680 187.5 655 180 642.5 197.5 647.5 217.5 630 222.5 610 210 605 187.5 630 160 632.5 140 615 125ZM477.5 202.5 520 202.5 520 222.5 580 225 575 230 477.5 230ZM815 255 822.5 240 840 205 860 195 870 215 870 230 815 230ZM1016 448.8 1030 452.5 1055 455 1073.8 456.2 1097.5 460 1101.2 467.5 1115 507.5 1057.5 550 1065 565 1090 568.8 1072.5 572.5 1055 585 1045 591.2 1030 590 1016 591.2Z"/>
<path fill="#9467bd" d="M1016 450 1030 452.5 1055 455 1055 475 1057.5 490 1055 505 1045 515 1055 522.5 1072.5 537.5 1057.5 550 1040 547.5 1020 550 1016 551.2ZM1065 512.5 1072.5 497.5 1077.5 486.2 1092.5 482.5 1095 472.5 1101.2 467.5 1115 507.5 1097.5 520 1092.5 525 1080 517.5Z"/>
<path fill="#2ca02c" d="M997.5 510 1002.5 500 1015 490 1025 488.8 1027.5 497.5 1036.2 502.5 1030 515 1022.5 520 1015 515 1002.5 518.8Z"/>
<path fill="#e377c2" d="M1170 730 1180 720 1202 727 1225 765 1250 800 1270 817 1262 845 1202 858 1190 860 1185 835 1180 810 1150 820 1125 810 1140 792 1150 780 1167 765Z"/>
<path fill="#2ca02c" d="M1095 792.5 1120 775 1127.5 745 1112.5 725 1142.5 712.5 1165 710 1170 730 1167.5 765 1150 780 1140 792.5 1125 810 1112.5 805ZM317.5 667.5 335 660 337.5 642.5 390 640 390 615 430 615 430 712.5 400 712.5 380 722.5 375 707.5 355 695 335 707.5 337.5 690 317.5 690Z"/>
<path fill="#e377c2" d="M342.5 660 375 657.5 380 672.5 350 675ZM389 615 400 600 425 600 422.5 632.5 395 635ZM335 780 335 707.5 355 695 375 707.5 380 722.5 400 712.5 430 712.5 430 780 390 780ZM307.5 732.5 320 720 335 725 335 742.5 315 740ZM390 780 430 780 430 880 420 880 400 900 390 880 380 850 375 820ZM400 995 410 950 425 920 430 910 430 1020 390 1020Z"/>
<path fill="#17becf" d="M329 972.5 337.5 950 350 940 365 912.5 380 907.5 380 920 370 940 355 955 340 962.5Z"/>
<path fill="#2ca02c" d="M380 915 410 905 422.5 902.5 415 912.5 390 925Z"/>
<path fill="#e377c2" d="M185 827.5 190 805 205 787.5 230 792.5 237.5 810 235 829ZM245 800 255 782.5 295 782.5 312.5 775 315 792.5 300 805 290 820 270 835 262.5 820Z"/>
<path fill="#2ca02c" d="M235 770 245 775 250 800 255 820 267.5 837.5 250 839 236 827.5 240 800Z"/>
<path fill="#e377c2" d="M955 795 965 765 975 725 992.5 722.5 1025 750 1035 785 1032.5 815 1000 822.5 970 815ZM397.5 985 615 985 610 995 605 998.5 565 1000 565 1021.5 480 1019 470 1015 390 1020Z"/>
<path fill="#2ca02c" d="M645 995 665 990 667.5 975 680 972.5 685 955 692.5 957.5 692.5 967.5 710 967.5 717.5 980 725 987.5 710 995 695 1000 690 1010 670 1007.5 650 1006ZM690 1010 710 995 712.5 1015 710 1042.5 700 1042.5 697.5 1025Z"/>
<path fill="#9467bd" d="M686 971 702.5 971 702.5 987.5 686 987.5Z"/>
<path fill="#e377c2" d="M710 1017.5 722.5 1015 725 1030 720 1042.5 711 1042.5Z"/>
<path fill="#2ca02c" d="M746 1160 760 1140 767.5 1117.5 780 1102.5 789 1115 782.5 1130 770 1142.5 774 1162.5 760 1165Z"/>
<path fill="#e377c2" d="M430 230 1016 230 1016 622 430 622Z"/>
<path fill="#9467bd" d="M430 230 477.5 230 477.5 328.8 467.5 315 445 302.5 430 297.5ZM430 337.5 450 335 476.2 340 476.2 432.5 430 430ZM578.8 230 827.5 230 815 242.5 815 255 705 255 705 282.5 692.5 277.5 680 267.5 670 265 652.5 270 650 277.5 630 280 620 287.5 622.5 297.5 610 302.5 605 312.5 590 312.5 570 310 565 300 560 292.5 537.5 290 532.5 280 540 267.5 560 250ZM565 335 580 333.8 591.2 342.5 590 352.5 577.5 360 582.5 370 575 380 562.5 390 557.5 385 562.5 365 566.2 350ZM521.2 375 542.5 362 550 370 542.5 377.5 527.5 383.8ZM498.8 405 508.8 403.8 510 415 502.5 422.5 496.2 420ZM515 427.5 552.5 428.8 553.8 434.5 513.8 433.8ZM835 277.5 845 267.5 850 257.5 880 256.2 882.5 262.5 870 275 840 286.2ZM758.8 332.5 772.5 331.2 773.8 342.5 762.5 348.8ZM935 460 942.5 441.2 955 450 977.5 452.5 980 470 1016 462.5 1016 565 990 562.5 980 552.5 987.5 525 962.5 517.5 945 505 927.5 500 895 501.2 887.5 497.5 927.5 490 930 477.5ZM975 597.5 992.5 595 1016 600 1016 622 987.5 622ZM455 437.5 480 445 483.8 460 495 455 490 447.5 505 455 517.5 452.5 530 457.5 527.5 462.5 505 460 467.5 450Z"/>
<path fill="#1f77b4" d="M705 323.8 740 323.8 742.5 332.5 755 342.5 762.5 348.8 781.2 343.8 775 357.5 762.5 365 752.5 375 772.5 362.5 785 370 792.5 363.8 805 377.5 810 372.5 826.2 377.5 822.5 385 810 390 805 420 815 432.5 830 430 842.5 442.5 830 455 820 470 812.5 475 792.5 465 772.5 465 755 467.5 750 480 755 492.5 740 502.5 730 500 712.5 510 695 520 687.5 530 675 532.5 682.5 542.5 685 555 680 565 690 575 685 585 677.5 590 700 600 700 622 605 622 592.5 600 577.5 585 570 575 555 572.5 585 565 580 552.5 565 525 555 505 577.5 505 580 492.5 566.2 480 571.2 472.5 562.5 462.5 575 457.5 576.2 437.5 613.8 436.2 613.8 412.5 580 413.8 575 407.5 592.5 403.8 620 402.5 647.5 402.5 648.8 370 663.8 360 705 360ZM555 572.5 570 590 547.5 602.5 532.5 615 540 605 555 585ZM440 480 448.8 473.8 460 477.5 467.5 490 477.5 490 471.2 500 483.8 505 500 502.5 512.5 495 518.8 498.8 512.5 510 505 517.5 485 520 467.5 517.5 450 527.5 448.8 552.5 440 552.5 440 525 430 522.5 430 490ZM482.5 532.5 490 525 505 526.2 503.8 537.5 497.5 542.5 485 540ZM487.5 448 497 447.5 497.5 455.8 488 456.2ZM840 463.8 855 462.5 856.2 470 847.5 477.5 840 472.5ZM820 555 842.5 543.8 847.5 547.5 830 560ZM827.5 567.5 846.2 560 847.5 577.5 837.5 582.5ZM805 573.8 815 572.5 820 582.5 808.8 585ZM748.8 595 767.5 590 780 585 777.5 605 755 610ZM707.5 577.5 725 576.2 727.5 590 715 600 705 590Z"/>
<path fill="#e377c2" d="M705 400 718.8 400 717.5 415 705 416.2ZM746.2 365 752.5 358.8 767.5 358.8 772.5 362.5 760 377.5 752.5 375ZM590 455 602.5 447.5 605 455 592.5 462.5ZM627.5 450 637.5 442.5 655 447.5 657.5 462.5 677.5 442.5 682.5 452.5 670 460 655 475 647.5 480 630 487.5 627.5 480 642.5 470 650 460 637.5 455ZM685 462.5 692.5 458.8 707.5 462.5 708.8 470 697.5 473.8 690 467.5ZM627.5 485 650 480 660 482.5 652.5 490 647.5 502.5 635 507.5 640 495ZM676.2 480 690 476.2 692.5 482.5 680 485ZM695 515 712.5 510 725 517.5 712.5 525 702.5 522.5ZM625 547.5 635 542.5 647.5 545 647.5 550 636.2 552.5 635 565 627.5 563.8ZM720 447.5 727.5 445 728.8 452.5 722.5 453.8Z"/>
<path fill="#bcbd22" d="M705 381.2 752.5 376.2 732.5 392.5 717.5 397.5 705 400ZM683.8 408.8 697.5 405 698.8 420 685 426.2ZM685 440 695 438.8 690 450ZM725 452.5 730 451.2 737.5 460 733.8 466.2ZM798.8 430 807.5 418.8 820 422.5 835 415 830 430 815 432.5 810 442.5 802.5 437.5ZM857.5 442.5 865 430 870 437.5 887.5 440 880 447.5 860 448.8ZM890 427.5 902.5 420 903.8 430 892.5 437.5ZM750 480 755 467.5 772.5 465 792.5 465 812.5 475 820 470 830 455 842.5 450 855 451.2 840 462.5 840 480 830 495 840 510 815 505 800 512.5 780 510 762.5 520 750 515 740 502.5 755 492.5ZM850 482.5 855 472.5 867.5 475 870 485 857.5 492.5ZM952.5 476.2 958.8 465 975 467.5 987.5 475 996.2 487.5 980 492.5 965 485ZM732.5 500 740 502.5 750 515 762.5 520 752.5 527.5 737.5 512.5ZM672.5 537.5 680 531.2 683.8 541.2 700 537.5 705 555 710 562.5 705 572.5 692.5 567.5 685 555ZM745 572.5 762.5 560 785 560 790 575 795 585 780 585 767.5 592.5 755 582.5ZM800 532.5 810 528.8 820 535 812.5 541.2 803.8 540ZM822.5 540 830 530 842.5 532.5 845 542.5 830 550ZM845 552.5 855 537.5 872.5 542.5 877.5 557.5 865 565 852.5 560ZM817.5 567.5 825 565 835 580 825 585ZM776.2 597.5 785 592.5 800 600 792.5 607.5 780 608.8ZM872.5 522.5 892.5 520 895 530 877.5 533.8ZM518.8 490 528.8 481.2 537.5 492.5 533.8 502.5 522.5 498.8ZM567.5 557.5 580 555 596.2 556.2 585 566.2 572.5 565ZM547.5 595 560 592.5 570 602.5 565 612.5 555 605ZM685 480 691.2 480 695 492.5 691.2 495Z"/>
<path fill="#17becf" d="M553.8 346.2 557.5 325 570 311.2 580 310 590 315 600 307.5 610 311.2 618.8 316.2 610 321.2 592.5 325 582.5 330 565 335 562.5 347.5ZM836.2 412.5 855 391.2 877.5 400 865 410 845 420ZM832.5 432.5 852.5 427.5 860 430 855 442.5 842.5 452.5 835 447.5ZM880 480 886.2 475 887.5 492.5 881.2 495ZM690 530 705 525 720 523.8 740 530 752.5 512.5 762.5 507.5 765 520 780 517.5 800 505 815 505 840 510 830 522.5 805 527.5 785 537.5 802.5 537.5 810 545 797.5 552.5 780 557.5 762.5 560 745 572.5 730 562.5 712.5 555 705 555 697.5 550 705 540ZM860 502.5 870 493.8 885 497.5 887.5 505 875 512.5 862.5 511.2ZM505 560 515 550 530 540 540 532.5 552.5 536.2 562.5 550 560 560 547.5 562.5 545 572.5 537.5 565 527.5 570 512.5 567.5ZM655 598.8 667.5 593.8 670 598.8 658.8 603.8ZM680 576.2 690 567.5 695 571.2 685 580ZM662.5 464.5 670.5 463.8 671.2 469.5 663.2 470ZM510 616.2 526.2 615 527.5 622 510 622Z"/>
<path fill="#2ca02c" d="M430 533.8 440 532.5 440 553.8 502.5 553.8 507.5 565 522.5 570 530 575 525 582.5 512.5 590 522.5 602.5 525 615 505 622 430 622ZM476.2 437.5 487.5 436.2 505 445 521.2 450 517.5 453.8 500 452.5 480 443.8ZM528.8 481.2 550 476.2 552.5 487.5 568.8 488.8 562.5 495 547.5 507.5 537.5 492.5ZM553.8 511.2 570 505 573.8 512.5 566.2 525 577.5 537.5 586.2 552.5 580 555 567.5 540 560 525ZM520 555 537.5 541.2 540 546.2 525 557.5ZM882.5 496.2 905 478.8 927.5 485 912.5 492.5 890 498.8ZM840 505 860 502.5 887.5 505 895 501.2 945 505 957.5 517.5 942.5 525 920 527.5 900 517.5 880 520 855 515 842.5 512.5ZM892.5 522.5 912.5 542.5 915 546.2 902.5 548.8 880 538.8 887.5 550 875 557.5 867.5 547.5ZM860 567.5 870 562.5 882.5 565 887.5 577.5 897.5 590 905 597.5 880 592.5 865 580ZM725 615 745 603.8 805 605 820 592.5 855 605 877.5 590 897.5 597.5 920 605 925 622 717.5 622ZM997.5 510 1007.5 496.2 1016 492.5 1016 520 1002.5 517.5ZM890 462.5 896.2 456.2 902.5 462.5 895 468.8ZM842.5 457.5 852.5 453.8 857.5 462.5 845 465ZM762.5 530 770 526.2 777.5 537.5 766.2 533.8ZM752.5 492.5 757.5 488.8 762.5 501.2 756.2 502.5ZM703.8 580 712.5 580 712.5 595 704.5 593.8ZM730 588.8 736.2 588.8 736.2 602.5 730.5 602.5ZM635 510 647.5 508.8 650 515 637.5 516.2Z"/>
<path fill="#e377c2" d="M430 745 435 742.5 462.5 760 480 775 490 797.5 505 817.5 522.5 815 550 807.5 565 820 552.5 830 560 830 570 852.5 580 860 592.5 865 622.5 875 630 882.5 632.5 900 627.5 917.5 630 931.2 633.8 950 625 970 607.5 992 430 992ZM780 787.5 800 792.5 820 805 825 810 820 820 830 825 840 832.5 852.5 835 885 840 882.5 850 895 867.5 882.5 872.5 883.8 882.5 872.5 891.2 840 887.5 835 875 800 880 780 870 787.5 857.5 780 855 783.8 845 765 850 755 837.5 767.5 830 772.5 815 780 810ZM772.5 896.2 800 896.2 815 900 817.5 912.5 802.5 917.5 787.5 911.2 780 917.5 775 907.5ZM711.2 942.5 751.2 943.8 743.8 960 743.8 972.5 725 980 717.5 972.5 711.2 960ZM897.5 601.2 912.5 600 970 600 993.8 632.5 942.5 662.5 935 636.2 900 652.5 900 665 915 675 912.5 700 927.5 715 930 740 910 752.5 880 742.5 895 715 896.2 700 901.2 686.2 897.5 680 892.5 685 880 685 868.8 672.5 867.5 670 842.5 656.2ZM975 720 1016 740 1016 817.5 997.5 821.2 967.5 812.5 950 792.5 960 775 965 755 970 750 977.5 735Z"/>
<path fill="#9467bd" d="M458.8 802.5 467.5 795 482.5 805 495 807.5 502.5 817.5 510 820 503.8 828.8 497.5 822.5 482.5 817.5 462.5 810ZM430 868.8 442.5 871.2 443.8 875 432.5 892.5 430 892.5Z"/>
<path fill="#2ca02c" d="M430 600 522.5 600 525 615 532.5 615 550 607.5 572.5 615 590 625 605 635 610 642.5 630 642.5 635 667.5 637.5 675 655 670 662.5 662.5 685 660 700 655 702.5 642.5 700 630 705 625 737.5 615 745 600 897.5 601.2 822.5 675 812.5 702.5 820 705 837.5 712.5 845 702.5 865 682.5 868.8 672.5 880 685 892.5 685 897.5 680 901.2 686.2 896.2 700 895 715 880 742.5 910 752.5 927.5 745 940 750 952.5 741.2 960 745 965 755 960 775 950 792.5 941.2 800 937.5 812.5 925 800 927.5 775 900 772.5 887.5 782.5 901.2 797.5 890 820 885 840 852.5 835 840 832.5 830 825 820 805 800 792.5 780 787.5 780 810 772.5 815 767.5 830 755 837.5 765 850 783.8 845 780 855 787.5 857.5 780 870 800 880 800 896.2 775 895 770 900 780 930 797.5 942.5 820 955 815 960 800 957.5 787.5 967.5 775 962.5 766.2 952.5 767.5 942.5 711.2 942.5 711.2 931.2 630 931.2 627.5 917.5 632.5 900 630 882.5 622.5 875 592.5 865 580 860 570 852.5 560 830 552.5 830 565 820 550 807.5 522.5 815 505 817.5 490 797.5 480 775 462.5 760 435 742.5 462.5 725 462.5 717.5 430 700ZM667.5 972.5 685 968.8 687.5 955 692.5 956.2 692.5 961.2 710 960 712.5 967.5 718.8 975 720 992 660 992Z"/>
<path fill="#9467bd" d="M686.2 971.2 701.2 971.2 701.2 992 686.2 992Z"/>
<path fill="#2ca02c" d="M897.5 601.2 912.5 600 917.5 615 923.8 621.2 915 620 905 610Z"/>
<path fill="#1f77b4" d="M542.5 600 702.5 600 700 630 702.5 642.5 700 655 685 660 662.5 662.5 655 670 637.5 675 635 667.5 630 642.5 610 642.5 605 635 590 625 572.5 615 550 607.5 532.5 615Z"/>
<path fill="#e377c2" d="M522.5 600 542.5 600 532.5 615 525 615ZM570 612.5 580 607.5 590 600 565 600ZM700 600 745 600 737.5 615 705 625 700 615Z"/>
<path fill="#bcbd22" d="M708.8 615 730 611.2 735 622.5 712.5 627.5ZM690 630 701.2 611.2 705 625ZM555 600 570 600 566.2 611.2 558.8 607.5Z"/>
<path fill="#e377c2" d="M470 665 480 655 495 658.8 500 675 505 682.5 490 697.5 477.5 690 472.5 680ZM430 678.8 442.5 677.5 448.8 687.5 437.5 697.5 430 696.2Z"/>
<path fill="#bcbd22" d="M441.2 710 447.5 700 462.5 693.8 460 705 463.8 717.5 445 727.5ZM436.2 666.2 447.5 658.8 462.5 665 458.8 675 448.8 667.5Z"/>
<path fill="#17becf" d="M451.2 658.8 467.5 650 481.2 647.5 478.8 656.2 467.5 666.2 457.5 661.2Z"/>
<path fill="#9467bd" d="M430 650 445 641.2 451.2 647.5 445 657.5 430 660Z"/>
<path fill="#17becf" d="M510 617.5 520 612.5 527.5 622.5 523.8 632.5 512.5 627.5Z"/>
<path fill="#9467bd" d="M476.2 612.5 500 613.8 497.5 622.5 480 622.5Z"/>
<path fill="#e377c2" d="M640 676.2 651.2 675 652.5 686.2 642.5 687.5ZM602.5 700 613.8 696.2 615 705 606.2 707.5Z"/>
<path fill="#9467bd" d="M605 722.5 615 712.5 620 713.8 620 725 625 728.8 610 727.5Z"/>
<path fill="#17becf" d="M618.8 713.8 626.2 712.5 627.5 725 621.2 726.2Z"/>
<path fill="#bcbd22" d="M725 652.5 738.8 650 740 658.8 727.5 662.5ZM827.5 621.2 835 607.5 841.2 602.5 837.5 615 832.5 622.5ZM605 634.5 614.5 633.8 615 643 606.2 643.8ZM613.8 665.5 619.5 665 620 679.5 615 680Z"/>
<path fill="#17becf" d="M808.8 703.8 821.2 675 830 685 838.8 691.2 827.5 696.2 822.5 703.8Z"/>
<path fill="#bcbd22" d="M645 760 650 751.2 677.5 751.2 685 772.5 680 780 670 786.2 660 780 652.5 772.5ZM650 815 657.5 795 670 787.5 685 795 680 805 660 807.5ZM597.5 767.5 607.5 762.5 617.5 772.5 607.5 777.5ZM620 782.5 630 777.5 635 785 630 791.2ZM663.8 823.8 690 826.2 688.8 833.8 663.8 836.2ZM745 797.5 757.5 785 765 772.5 778.8 787.5 780 810 750 808.8Z"/>
<path fill="#9467bd" d="M723.8 777.5 732.5 766.2 742.5 770 742.5 775 757.5 776.2 752.5 787.5 746.2 792.5 735 780ZM683.8 765 692.5 757.5 705 772.5 700 780 685 775Z"/>
<path fill="#17becf" d="M637.5 761.2 648.8 758.8 651.2 771.2 641.2 770ZM631.2 770 642.5 772.5 642.5 781.2 635 775ZM697.5 785.5 702 785 702 797.5 698 797Z"/>
<path fill="#bcbd22" d="M650 903.8 670 902.5 680 906.2 690 910 683.8 917.5 686.2 931.2 650 931.2Z"/>
<path fill="#e377c2" d="M690 825 702.5 830 717.5 827.5 725 835 730 850 707.5 855 685 857.5 685 840Z"/>
<path fill="#17becf" d="M931.2 761.2 938.8 760 942.5 785 945 792.5 948.8 797.5 945 810 953.8 825 945 820 937.5 810 941.2 800 940 787.5 935 775Z"/>
<path fill="#bcbd22" d="M800 880 835 874.5 841.2 887.5 837.5 896.2 827.5 898.8 815 892.5 801.2 890Z"/>
<path fill="#1f77b4" d="M495 861.2 510 856.2 512.5 862.5 537.5 863.8 551.2 868.8 537.5 875 532.5 890 522.5 898.8 505 900 497.5 882.5ZM526.2 920 540 932.5 547.5 922.5 543.8 912.5 548.8 902.5 552.5 903.8 553.8 912.5 565 913.8 561.2 947.5 553.8 953.8 545 942.5 532.5 940 530 927.5Z"/>
</g>
<use href="#ho"/>
<g clip-path="url(#cp)"><text class="at" x="7" y="1332.5" textLength="717" lengthAdjust="spacingAndGlyphs">(C) OpenStreetMap contributors (C) CARTO</text></g>
</g>
<text class="t" x="2201.5" y="75.5" text-anchor="middle" textLength="374" lengthAdjust="spacingAndGlyphs">ward (0.211)</text>
<g transform="translate(3042 100)">
<use href="#bm"/>
<g opacity="0.6" clip-path="url(#co)">
<use href="#ol" fill="#d62728"/>
<path fill="#17becf" d="M152.5 655 170 627.5 190 620 202.5 630 217.5 645 219 662.5 195 650 175 652.5ZM286 682.5 295 665 287.5 635 297.5 627.5 310 652.5 320 650 325 680 302.5 677.5Z"/>
<path fill="#e377c2" d="M317.5 655 335 652.5 336 690 320 690Z"/>
<path fill="#17becf" d="M190 767.5 217.5 745 222.5 729 275 727.5 290 717.5 307.5 716 292.5 745 292.5 775 265 775 250 770 265 755 250 752.5 230 770 210 772.5ZM329 972.5 337.5 950 350 940 365 912.5 380 907.5 422.5 902.5 410 945 390 940 370 945 355 955 340 962.5Z"/>
<path fill="#e377c2" d="M407.5 677.5 410 640 430 632.5 460 640 457.5 665 430 670Z"/>
<path fill="#17becf" d="M410 700 430 692.5 460 695 455 722.5 442.5 725 445 707.5 425 710ZM1007.5 655 1017.5 615 1030 600 1050 600 1045 620 1060 650 1055 682.5 1080 695 1035 762.5 1022.5 752.5 1017.5 715 1022.5 682.5Z"/>
<path fill="#e377c2" d="M972.5 600 1027.5 600 1017.5 617.5 1002.5 627.5Z"/>
<path fill="#17becf" d="M1000 845 1017.5 837.5 1022.5 832.5 1030 840 1035 815 1117.5 875 1112.5 975 1067.5 945 1070 920 1057.5 895 1040 877.5 1030 860 1015 865ZM562.5 1000 605 997.5 610 980 620 967.5 645 965 665 975 650 995 675 1020 637.5 1010 642.5 1042.5 635 1030 590 1032.5 575 1040 567.5 1035Z"/>
<path fill="#e377c2" d="M645 995 665 990 667.5 975 680 972.5 685 955 692.5 957.5 692.5 967.5 710 967.5 717.5 980 725 987.5 732.5 995 730 1007.5 695 1000 675 1020 650 1006Z"/>
<path fill="#17becf" d="M686 971 702.5 962.5 715 970 719 987.5 702.5 997.5 687.5 995ZM781.5 1032.5 782.5 1000 795 985 792.5 967.5 815 960 850 930 872.5 916 875 930 862.5 945 880 942.5 907.5 950 911 975 900 1000 875 1005 862.5 1032.5Z"/>
<path fill="#e377c2" d="M835 980 855 967.5 880 965 911 976 900 1000 875 1005 850 1002.5 840 992.5ZM364 1021.5 425 1021.5 422.5 1045 435 1065 440 1100 455 1095 480 1105 510 1125 530 1140 547.5 1155 552.5 1190 550 1200 555 1220 562.5 1252.5 525 1275 485 1265 475 1220 460 1210 467.5 1192.5 410 1200 397.5 1182.5 382.5 1190 350 1189 350 1050Z"/>
<path fill="#17becf" d="M425 1021.5 455 1015 565 1022.5 567.5 1035 557.5 1055 552.5 1100 555 1115 547.5 1155 530 1140 510 1125 480 1105 455 1095 440 1100 435 1065 422.5 1045ZM350 1189 382.5 1190 397.5 1182.5 410 1200 467.5 1192.5 460 1210 475 1220 485 1265 455 1280 422.5 1262.5 350 1260Z"/>
<path fill="#e377c2" d="M699 1177.5 700 1150 712.5 1145 712.5 1125 730 1112.5 740 1120 762.5 1117.5 760 1142.5 747.5 1160 737.5 1177.5Z"/>
<path fill="#17becf" d="M705 255 705 197.5 725 192.5 740 195 750 190 767.5 197.5 757.5 220 780 240 815 242.5 816.5 256ZM347.5 345 355 330 370 325 387.5 330 405 337.5 407.5 360 400 370 385 360 365 357.5 350 357.5ZM255 362.5 287.5 367.5 295 400 305 412.5 342.5 410 347.5 427.5 255 429ZM342.5 557.5 350 545 370 545 387.5 552.5 370 555 355 552.5ZM406 560 420 552.5 427.5 565 426.5 585 410 575ZM152.5 655 165 625 187.5 620 200 617.5 205 635 217.5 645 215 662.5 195 650 180 645 165 655ZM285 635 295 627.5 302.5 645 315 655 322.5 652.5 320 672.5 305 680 285 685 295 665 292.5 650Z"/>
<path fill="#e377c2" d="M317.5 655 335 657.5 336 690 320 687.5Z"/>
<path fill="#17becf" d="M190 767.5 210 750 225 730 255 727.5 282.5 720 305 716 295 735 295 772.5 267.5 775 250 765 265 752.5 247.5 755 230 772.5 210 780ZM927.5 475 940 452.5 955 475 962.5 480 945 495 932.5 490ZM980 542.5 995 520 1000 505 1020 490 1035 500 1030 510 1010 520 1000 555 987.5 557.5ZM1010 650 1025 615 1030 600 1045 597.5 1050 620 1050 640 1057.5 655 1055 680 1080 695 1035 762.5 1015 735 1020 695 1005 665Z"/>
<path fill="#e377c2" d="M972.5 600 1000 595 1027.5 597.5 1020 627.5 1000 630 980 610Z"/>
<path fill="#17becf" d="M1000 852.5 1030 830 1037.5 815 1085 864 1000 864Z"/>
<path fill="#1f77b4" d="M705 323.8 740 323.8 742.5 335 760 347.5 740 352.5 742.5 362.5 755 377.5 772.5 362.5 785 370 792.5 363.8 805 377.5 810 372.5 826.2 377.5 822.5 385 810 392.5 805 412.5 812.5 422.5 830 425 842.5 442.5 830 455 820 470 812.5 480 825 495 820 505 800 505 780 517.5 775 507.5 780 500 767.5 485 755 470 750 480 762.5 490 755 502.5 740 507.5 732.5 500 735 517.5 712.5 510 700 515 692.5 525 680 532.5 690 540 677.5 545 682.5 557.5 672.5 567.5 685 585 677.5 590 700 600 700 622 605 622 592.5 600 585 590 580 575 590 565 580 552.5 577.5 542.5 585 525 577.5 505 580 492.5 566.2 480 571.2 472.5 562.5 462.5 575 457.5 576.2 437.5 613.8 436.2 613.8 412.5 630 406.2 647.5 402.5 648.8 370 663.8 360 705 360Z"/>
<path fill="#d62728" d="M627.5 445 642.5 437.5 655 452.5 647.5 455ZM662.5 450 670 437.5 680 442.5 675 455 665 457.5ZM720 448.8 728.8 443.8 725 453.8ZM677.5 465 687.5 460 685 475 677.5 470ZM627.5 485 650 480 660 482.5 655 490 637.5 492.5ZM635 500 650 495 652.5 505 645 517.5 635 512.5ZM685 482.5 690 480 695 492.5 691.2 495ZM672.5 533.8 682.5 530 683.8 541.2 673.8 542.5ZM635 543.8 647.5 542.5 647.5 548.8 636.2 550ZM752.5 490 762.5 483.8 767.5 492.5 760 502.5 755 502.5Z"/>
<path fill="#17becf" d="M703.8 400 718.8 400 717.5 416.2 705 415ZM650 467.5 660 452.5 665 450 671.2 457.5 665 467.5 655 472.5ZM625 548.8 635 547.5 635 562.5 627.5 565ZM651.2 500 656.2 500 657.5 508.8 652 508.8Z"/>
<path fill="#1f77b4" d="M440 480 448.8 473.8 460 477.5 467.5 490 492.5 487.5 505 497.5 517.5 490 530 482.5 540 495 537.5 505 525 517.5 527.5 530 512.5 540 505 530 502.5 520 485 510 467.5 517.5 450 527.5 445 515 430 505 430 490ZM828.8 317.5 845 316.2 865 315 877.5 307.5 880 320 870 330 868.8 337.5 860 342.5 857.5 352.5 842.5 355 840 342.5 835 327.5ZM532.5 395 540 391.2 546.2 400 540 405 537.5 412.5 533.8 402.5ZM840 463.8 855 462.5 856.2 470 847.5 477.5 840 472.5ZM820 555 842.5 543.8 847.5 547.5 847.5 577.5 837.5 582.5 827.5 567.5ZM748.8 595 767.5 590 780 585 790 575 795 585 777.5 605 755 610ZM707.5 577.5 725 576.2 727.5 590 715 600 705 590ZM565 482.5 573.8 480 575 495 570 502.5 562.5 497.5ZM555 580 570 572.5 585 567.5 592.5 580 585 590 575 587.5 565 600 557.5 590ZM532.5 615 547.5 602.5 560 605 555 622 535 622ZM805 573.8 815 562.5 820 582.5 808.8 585Z"/>
<path fill="#17becf" d="M705 230 762.5 230 768.8 241.2 777.5 238.8 790 245 816.2 243.8 816.2 256.2 705 256.2ZM553.8 346.2 557.5 325 570 311.2 580 310 590 315 600 307.5 610 311.2 618.8 316.2 610 321.2 592.5 325 582.5 330 565 335 562.5 347.5ZM810 310 830 297.5 838.8 293.8 840 316.2 828.8 317.5ZM772.5 343.8 776.2 325 786.2 318.8 792.5 330 780 342.5ZM438.8 375 448.8 371.2 462.5 390 468.8 385 476.2 390 476.2 432.5 457.5 430 442.5 422.5 453.8 415 447.5 395ZM512.5 432.5 517.5 427.5 530 428.8 545 427.5 543.8 434.5 515 435ZM480 441.2 485 435.5 493.8 442.5 498.8 445 497.5 450 490 445.5ZM498.8 473.8 505 467.5 515 468.8 505 477.5ZM836.2 412.5 855 391.2 877.5 400 865 410 845 420ZM816.2 420 832.5 412.5 835 416.2 820 423.8ZM690 530 705 525 712.5 520 725 532.5 742.5 517.5 735 517.5 732.5 500 740 507.5 755 502.5 760 502.5 767.5 492.5 780 500 775 507.5 780 517.5 800 505 820 505 825 495 812.5 480 820 470 830 455 842.5 442.5 832.5 432.5 852.5 427.5 880 440 895 455 887.5 465 895 470 885 477.5 887.5 495 897.5 505 892.5 515 870 530 865 547.5 852.5 550 842.5 543.8 820 555 810 545 797.5 552.5 790 575 780 585 767.5 590 762.5 577.5 745 585 730 562.5 712.5 555 705 555 685 585 672.5 567.5 682.5 557.5 677.5 545 690 540Z"/>
<path fill="#d62728" d="M825 470 840 462.5 840 480 832.5 482.5 827.5 477.5ZM842.5 482.5 855 476.2 870 462.5 887.5 465 895 470 885 477.5 877.5 490 865 495 855 502.5 842.5 502.5ZM705 512.5 725 507.5 742.5 517.5 725 532.5 712.5 520ZM805 515 812.5 517.5 805 527.5ZM820 497.5 830 502.5 827.5 510 820 505Z"/>
<path fill="#e377c2" d="M762.5 530 770 526.2 777.5 537.5 766.2 533.8ZM707.5 522.5 717.5 521.2 715 528.8 708 528.8Z"/>
<path fill="#17becf" d="M927.5 482.5 940 453.8 947.5 463.8 957.5 461.2 952.5 475 965 486.2 945 490 940 495ZM977.5 545 992.5 525 997.5 510 1007.5 496.2 1016 493.8 1016 557.5 1005 552.5 990 560ZM505 560 515 550 525 540 527.5 530 537.5 522.5 555 525 570 537.5 582.5 542.5 580 552.5 590 565 580 575 570 567.5 560 560 552.5 553.8 555 565 547.5 575 540 580 530 575 512.5 567.5ZM465 557.5 477.5 555 476.2 572.5 492.5 580 500 572.5 510 580 515 590 502.5 597.5 500 610 512.5 605 522.5 612.5 517.5 622 440 622 455 605 472.5 592.5 465 580Z"/>
<path fill="#e377c2" d="M447.5 560 460 558.8 461.2 570 450 571.2ZM476.2 557.5 495 557.5 493.8 575 477.5 572.5ZM455 580 470 590 472.5 592.5 455 605 453.8 592.5ZM472.5 592.5 492.5 587.5 505 590 502.5 597.5 500 610 480 607.5ZM440 622 455 605 467.5 612.5 470 622Z"/>
<path fill="#17becf" d="M655 598.8 667.5 592.5 680 590 670 600 658.8 603.8ZM730 587.5 737.5 587.5 737.5 602.5 730.5 602.5ZM862.5 590 880 587.5 897.5 590 905 595 887.5 605 865 597.5Z"/>
<path fill="#e377c2" d="M877.5 535 887.5 530 905 528.8 916.2 545 897.5 550 885 542.5ZM725 615 745 603.8 777.5 605 805 605 830 597.5 855 590 865 597.5 887.5 605 875 622 717.5 622ZM975 596.2 1016 592.5 1016 622 987.5 622ZM527.5 482.5 536.2 478.8 540 487.5 536.2 492.5ZM573.8 550 585 543.8 586.2 552.5 577.5 555ZM695 571.2 707.5 571.2 707.5 578.8 695.5 578.8ZM570 620 590 625 605 635 610 642.5 630 642.5 635 667.5 637.5 675 655 670 662.5 662.5 685 660 700 655 702.5 642.5 700 630 705 625 737.5 615 745 600 805 600 802.5 612.5 812.5 615 820 632.5 835 625 840 615 855 605 860 600 897.5 601.2 842.5 656.2 822.5 675 808.8 703.8 830 693.8 855 700 877.5 705 887.5 717.5 890 730 880 742.5 895 752.5 922.5 760 935 760 952.5 741.2 960 745 965 755 960 775 950 792.5 941.2 800 937.5 812.5 925 800 927.5 775 905 772.5 897.5 790 860 795 840 807.5 827.5 815 820 800 802.5 792.5 785 787.5 772.5 775 757.5 770 742.5 775 727.5 765 712.5 757.5 707.5 765 717.5 775 702.5 775 697.5 790 705 797.5 720 795 737.5 797.5 742.5 812.5 745 825 755 842.5 742.5 840 730 827.5 725 830 717.5 822.5 702.5 830 690 825 690 835 685 840 662.5 835 663.8 823.8 650 812.5 642.5 825 653.8 828.8 641.2 831.2 655 840 657.5 850 640 855 650 862.5 665 865 670 877.5 650 875 650 931.2 630 931.2 627.5 917.5 632.5 900 630 882.5 622.5 875 595 867.5 615 860 635 855 637.5 852.5 627.5 840 610 817.5 605 820 567.5 817.5 560 810 550 807.5 522.5 815 505 828.8 497.5 822.5 482.5 817.5 462.5 810 457.5 802.5 467.5 795 482.5 797.5 490 802.5 490 790 480 775 462.5 760 435 742.5 462.5 725 457.5 700 462.5 693.8 475 677.5 492.5 685 505 682.5 495 662.5 487.5 652.5 505 642.5 515 650 525 662.5 542.5 645 555 632.5Z"/>
<path fill="#17becf" d="M623.8 730 645 730 647.5 737.5 656.2 737.5 657.5 731.2 691.2 730 691.2 755 685 765 687.5 775 677.5 782.5 665 775 658.8 775 665 762.5 660 765 655 780 642.5 781.2 632.5 770 626.2 752.5Z"/>
<path fill="#e377c2" d="M658.8 775 662.5 763.8 670 763.8 673.8 775Z"/>
<path fill="#17becf" d="M620 782.5 630 777.5 640 782.5 642.5 800 645 807.5 635 800 622.5 802.5 630 795 627.5 787.5ZM702.5 775 717.5 775 718.8 787.5 730 795 720 796.2 705 797.5 697.5 790ZM737.5 800 755 805 777.5 810 765 815 742.5 812.5ZM601.2 710 612.5 708.8 620 710 627.5 717.5 626.2 725 620 723.8 605 722.5Z"/>
<path fill="#d62728" d="M602.5 700 613.8 696.2 615 705 606.2 710Z"/>
<path fill="#17becf" d="M642.5 825 647.5 805 653.8 803.8 667.5 812.5 663.8 823.8 662.5 835 685 840 690 835 685 872.5 680 875 670 877.5 665 865 660 850 657.5 840 641.2 831.2ZM605 807.5 612.5 802.5 615 817.5 620 830 625 838.8 613.8 833.8 607.5 820Z"/>
<path fill="#d62728" d="M661.2 807.5 677.5 803.8 691.2 807.5 690 827.5 672.5 825 668.8 815ZM797.5 760 820 755 832.5 741.2 845 755 855 765 852.5 780 840 792.5 832.5 803.8 820 790 807.5 775ZM843.8 735 863.8 742.5 855 745 855 755 845 752.5Z"/>
<path fill="#17becf" d="M808.8 703.8 822.5 675 842.5 656.2 866.2 671.2 862.5 687.5 852.5 700 830 693.8ZM837.5 705 852.5 700 855 712.5 845 720ZM797.5 622.5 810 632.5 820 632.5 831.2 630 830 642.5 817.5 645 805 635ZM860 785 871.2 777.5 882.5 785 895 792.5 875 798.8 862.5 797.5ZM897.5 790 905 772.5 927.5 775 925 800 937.5 812.5 920 807.5 912.5 825 896.2 820ZM930 765 942.5 762.5 942.5 785 948.8 797.5 945 810 953.8 825 945 820 937.5 812.5 941.2 800 940 787.5 935 775Z"/>
<path fill="#1f77b4" d="M542.5 600 702.5 600 700 630 702.5 642.5 700 655 685 660 662.5 662.5 655 670 637.5 675 635 667.5 630 642.5 610 642.5 605 635 590 625 572.5 615 550 607.5 532.5 615Z"/>
<path fill="#d62728" d="M655 605 670 607.5 667.5 615 657.5 613.8ZM687.5 625 700 622.5 698.8 635 690 632.5ZM690 642.5 707.5 637.5 705 655 692.5 650ZM642.5 675 651.2 675 652.5 686.2 642.5 687.5ZM637.5 660 647.5 662.5 645 667.5 638.8 667.5ZM620 611.2 627.5 612.5 625 620ZM658.8 666.2 665 667.5 663.8 677.5Z"/>
<path fill="#e377c2" d="M438.8 600 462.5 600 455 615 438.8 621.2Z"/>
<path fill="#17becf" d="M437.5 622.5 472.5 622.5 485 635 505 640 487.5 652.5 475 642.5 460 637.5 447.5 647.5 437.5 642.5ZM462.5 600 500 600 502.5 612.5 515 622.5 525 615 542.5 612.5 555 632.5 542.5 645 525 637.5 505 640 485 635 472.5 622.5 475 610Z"/>
<path fill="#d62728" d="M500 615 510 613.8 515 625 505 627.5Z"/>
<path fill="#e377c2" d="M477.5 600 498.8 600 500 611.2 480 612.5Z"/>
<path fill="#d62728" d="M500 600 532.5 600 532.5 615 525 615 515 607.5Z"/>
<path fill="#17becf" d="M475 677.5 487.5 652.5 495 662.5 505 682.5 492.5 685 490 697.5 480 690Z"/>
<path fill="#e377c2" d="M430 635 440 632.5 447.5 641.2 440 650 430 648.8Z"/>
<path fill="#17becf" d="M440 707.5 445 700 457.5 700 462.5 705 463.8 717.5 445 727.5Z"/>
<path fill="#e377c2" d="M442.5 692.5 451.2 686.2 460 693.8 457.5 700 445 700Z"/>
<path fill="#17becf" d="M430 695 441.2 693.8 442.5 702.5 430 705ZM502.5 813.8 522.5 800 528.8 797.5 522.5 815 505 817.5ZM522.5 815 550 807.5 560 810 567.5 817.5 560 825 552.5 830 560 835 568.8 852.5 567.5 865 551.2 868.8 537.5 863.8 527.5 862.5 530 850 525 840 517.5 840Z"/>
<path fill="#1f77b4" d="M495 861.2 510 856.2 512.5 862.5 537.5 863.8 551.2 868.8 537.5 875 532.5 890 522.5 898.8 505 900 497.5 882.5ZM526.2 920 540 932.5 547.5 922.5 543.8 912.5 548.8 902.5 552.5 903.8 553.8 912.5 565 913.8 561.2 947.5 553.8 953.8 545 942.5 532.5 940 530 927.5Z"/>
<path fill="#17becf" d="M650 875 670 877.5 680 875 688.8 882.5 685 900 690 907.5 670 902.5 660 906.2 650 900Z"/>
<path fill="#e377c2" d="M730 857.5 747.5 862.5 765 865 775 862.5 786.2 853.8 785 865 780 870 800 880 800 896.2 775 895 770 900 780 930 790 937.5 782.5 950 787.5 967.5 775 962.5 766.2 952.5 767.5 942.5 751.2 942.5 750 922.5 757.5 895 742.5 892.5 730 900 728.8 895 747.5 882.5 740 870Z"/>
<path fill="#17becf" d="M730 902.5 742.5 897.5 757.5 895 755 912.5 747.5 907.5 737.5 910ZM792.5 968.8 815 960 825 947.5 832.5 932.5 850 922.5 872.5 916.2 872.5 925 863.8 940 865 945 887.5 943.8 907.5 950 911.2 975 890 972.5 867.5 963.8 850 970 835 982.5 830 992 785 992Z"/>
<path fill="#e377c2" d="M835 982.5 850 970 867.5 963.8 890 972.5 911.2 975 912.5 992 830 992Z"/>
<path fill="#17becf" d="M605 992 612.5 975 625 965 640 963.8 655 970 665 977.5 660 992Z"/>
<path fill="#e377c2" d="M665 977.5 680 957.5 687.5 955 686.2 971.2 686.2 992 660 992Z"/>
<path fill="#17becf" d="M687.5 955 692.5 961.2 710 960 718.8 975 720 992 686.2 992Z"/>
<path fill="#e377c2" d="M977.5 600 1016 600 1016 635 1002.5 630 990 615Z"/>
<path fill="#17becf" d="M1007.5 657.5 1016 642.5 1016 675 1010 672.5ZM1000 846.2 1016 837.5 1016 862.5Z"/>
</g>
<use href="#ho"/>
<g clip-path="url(#cp)"><text class="at" x="7" y="1332.5" textLength="717" lengthAdjust="spacingAndGlyphs">(C) OpenStreetMap contributors (C) CARTO</text></g>
</g>
<text class="t" x="3707.5" y="75.5" text-anchor="middle" textLength="820" lengthAdjust="spacingAndGlyphs">affinity_propagation (0.266)</text>
<g transform="translate(30 1539)">
<use href="#bm"/>
<g opacity="0.6" clip-path="url(#co)">
<use href="#ol" fill="#2ca02c"/>
<path fill="#bcbd22" d="M480 110 497.5 109 510 130 535 150 575 165 595 180 610 210 625 225 520 225 520 202.5 480 202.5ZM642.5 225 642.5 190 655 177.5 675 180 680 165 705 165 705 225ZM755 170 770 147.5 795 165 800 185 790 200 780 215 790 240 770 242.5 757.5 220 767.5 205 757.5 190ZM815 225 845 192.5 860 197.5 867.5 217.5 860 242.5 840 230ZM317.5 215 330 214 331 235 320 240ZM355 337.5 365 320 390 302.5 422.5 300 410 320 397.5 335 385 345 372.5 337.5ZM430 340 450 335 475 340 495 330 510 315 525 295 550 297.5 565 307.5 555 330 565 350 540 360 520 365 530 380 550 375 560 390 545 400 530 410 510 405 495 410 477.5 405 470 420 450 410 435 380 420 360ZM355 490 370 455 385 470 400 480 415 495 400 515 385 530 365 520ZM252.5 527.5 285 525 305 510 325 515 335 535 350 540 370 530 390 545 410 530 430 525 430 560 410 560 400 575 380 570 370 580 350 560 335 560 315 570 295 560 285 550 265 565 252.5 567.5ZM362.5 625 385 615 400 630 390 642.5 365 640ZM317.5 662.5 325 655 350 657.5 370 680 390 670 410 645 430 640 450 655 440 680 420 690 400 695 380 697.5 360 695 350 705 337.5 707.5 337.5 680ZM180 745 195 725 190 705 205 695 225 705 230 725 250 730 272.5 722.5 265 745 250 760 237.5 752.5 225 745 200 755 187.5 752.5ZM217.5 795 230 780 250 782.5 270 775 300 777.5 312.5 785 310 802.5 290 812.5 270 800 250 795 240 810 220 807.5Z"/>
<path fill="#1f77b4" d="M190 770 210 755 225 747.5 235 760 225 772.5 205 777.5Z"/>
<path fill="#bcbd22" d="M385 725 400 710 430 690 450 680 465 705 460 730 435 750 410 760 395 745ZM372.5 830 390 825 430 822.5 450 825 470 840 470 864 375 864ZM150 827.5 170 825 187.5 840 175 864 150 864ZM885 420 930 415 955 402.5 970 425 1000 450 1020 452.5 1055 460 1097.5 462.5 1115 510 1095 515 1075 520 1067.5 505 1050 515 1030 530 1000 520 980 540 990 560 1000 595 975 595 950 575 930 555 920 530 900 515 890 490 900 465Z"/>
<path fill="#2ca02c" d="M995 480 1015 465 1030 480 1010 495ZM1030 495 1050 475 1065 490 1045 505ZM1065 505 1075 485 1100 490 1090 510Z"/>
<path fill="#bcbd22" d="M820 635 840 610 870 605 885 620 900 630 905 670 890 705 870 695 850 680 825 670ZM990 670 995 630 1000 622.5 1017.5 630 1010 655ZM910 770 915 730 930 705 950 700 975 720 960 750 940 760ZM950 790 970 770 1000 790 1022.5 815 1000 820 970 815Z"/>
<path fill="#1f77b4" d="M932.5 762.5 942.5 760 945 795 952.5 820 940 810Z"/>
<path fill="#bcbd22" d="M180 745 195 700 215 695 227.5 707.5 222.5 730 250 727.5 272.5 722.5 265 745 245 765 237.5 810 220 795 222.5 780 197.5 767.5Z"/>
<path fill="#1f77b4" d="M190 767.5 210 755 225 747.5 235 762.5 222.5 775 202.5 777.5Z"/>
<path fill="#bcbd22" d="M250 780 270 775 300 777.5 315 775 312.5 792.5 300 805 280 812.5 265 800ZM102.5 810 117.5 802.5 130 820 142.5 835 175 822.5 190 845 180 860 170 880 115 880 105 835ZM122.5 922.5 155 940 175 960 200 940 207.5 950 222.5 960 212.5 985 215 1005 235 1030 257.5 1042.5 230 1055 222.5 1042.5 215 1060 146 1084 135 1000ZM320 660 335 655 355 660 380 657.5 402.5 670 400 690 380 700 355 697.5 337.5 710 335 690 317.5 690ZM362.5 640 375 620 390 615 392.5 637.5 380 642.5ZM387.5 725 405 715 425 690 445 680 462.5 700 465 725 445 735 425 750 405 760 390 740ZM410 660 417.5 637.5 430 635 430 665ZM375 827.5 455 825 470 840 472.5 865 490 900 470 895 455 905 445 895 415 895 390 880 380 850ZM415 945 425 920 445 920 470 912.5 477.5 935 455 945Z"/>
<path fill="#17becf" d="M427.5 915 444 914 445 929 436 930Z"/>
<path fill="#1f77b4" d="M329 972.5 337.5 950 350 940 365 912.5 380 910 377.5 925 370 940 355 955 340 962.5Z"/>
<path fill="#bcbd22" d="M992.5 670 990 635 1002.5 627.5 1017.5 630 1010 655ZM950 800 965 767.5 980 770 1025 817.5 980 820 955 815ZM650 1042.5 675 1025 700 1012.5 722.5 1020 725 1030 722.5 1044Z"/>
<path fill="#9467bd" d="M687.5 1000 720 987.5 727.5 992.5 705 1005 690 1006Z"/>
<path fill="#bcbd22" d="M465 1280 480 1267.5 510 1267.5 525 1280ZM565 985 610 985 605 998.5 567.5 998.5ZM430 335 455 337.5 480 340 498.8 332.5 497.5 325 510 310 525 293.8 540 298.8 552.5 293.8 565 305 566.2 315 557.5 322.5 555 337.5 553.8 347.5 562.5 346.2 565 355 555 360 550 367.5 537.5 365 530 355 515 360 512.5 370 520 380 517.5 395 535 390 542.5 392.5 552.5 392.5 555 405 575 407.5 592.5 403.8 613.8 405 613.8 437.5 575 437.5 570 445 555 442.5 542.5 447.5 530 445 512.5 442.5 500 445 480 437.5 455 435 430 433.8Z"/>
<path fill="#2ca02c" d="M512.5 367.5 530 355 540 365 550 367.5 547.5 380 535 390 517.5 395 520 380ZM480 415 490 405 502.5 405 500 417.5 487.5 422.5ZM510 405 525 402.5 542.5 405 547.5 420 530 430 515 427.5ZM430 375 440 377.5 462.5 400 465 425 445 420 430 405Z"/>
<path fill="#bcbd22" d="M577.5 360 592.5 350 603.8 360 600 372.5 585 370ZM611.2 355 625 342.5 635 350 637.5 375 627.5 385 617.5 372.5ZM565 392.5 577.5 380 587.5 382.5 585 392.5 570 398.8ZM705 257.5 752.5 258 757.5 272.5 745 287.5 752.5 292.5 762.5 297.5 772.5 287.5 787.5 277.5 792.5 258.8 825 257.5 815 277.5 812.5 287.5 810 307.5 792.5 320 785 322.5 780 330 762.5 340 757.5 347.5 742.5 325 705 323.8 705 312.5 720 312.5 722.5 287.5 705 285ZM667.5 310 680 297.5 705 286.2 705 323.8 692.5 327.5 680 320ZM767.5 230 787.5 230 787.5 241.2 770 241.2ZM830 230 865 230 855 237.5 835 235ZM787.5 357.5 800 350 815 365 817.5 373.8 805 367.5ZM810 400 816.2 387.5 823.8 390 832.5 405 840 415 827.5 413.8 812.5 410ZM842.5 455 855 450 880 447.5 892.5 437.5 887.5 420 887.5 405 902.5 420 915 427.5 927.5 420 957.5 401.2 972.5 420 983.8 445 1016 450 1016 555 1000 552.5 977.5 542.5 962.5 530 945 525 932.5 530 905 530 897.5 505 887.5 500 880 480 877.5 475 865 465 855 462.5 840 465Z"/>
<path fill="#2ca02c" d="M902.5 465 917.5 467.5 927.5 480 920 487.5 905 482.5ZM882.5 497.5 905 490 927.5 487.5 945 500 945 507.5 905 505 892.5 502.5ZM1002.5 467.5 1016 465 1016 490 1000 477.5ZM977.5 542.5 992.5 505 1016 512.5 1016 537.5 1002.5 530ZM902.5 420 910 412.5 920 420 915 427.5Z"/>
<path fill="#e377c2" d="M900 437.5 927.5 420 957.5 401.2 945 437.5 920 447.5 910 451.2Z"/>
<path fill="#bcbd22" d="M430 433.8 455 435 480 437.5 500 445 512.5 442.5 530 445 542.5 447.5 555 442.5 570 445 575 437.5 577.5 455 565 457.5 570 472.5 582.5 470 590 455 602.5 450 605 460 590 470 580 482.5 570 487.5 562.5 497.5 570 505 565 512.5 547.5 505 537.5 507.5 530 492.5 540 485 537.5 477.5 525 482.5 517.5 490 505 477.5 500 467.5 480 465 465 467.5 455 475 440 470 430 470ZM430 537.5 450 530 475 520 492.5 517.5 505 522.5 515 537.5 525 530 525 542.5 505 560 507.5 567.5 495 577.5 505 580 512.5 590 495 597.5 480 587.5 467.5 580 450 585 440 580 440 555 430 552.5Z"/>
<path fill="#2ca02c" d="M475 522.5 487.5 521.2 490 530 480 540 475 535ZM485 542.5 495 540 497.5 552.5 487.5 555ZM450 560 460 560 461.2 571.2 451.2 571.2Z"/>
<path fill="#bcbd22" d="M705 575 717.5 567.5 730 570 745 580 762.5 590 767.5 595 750 600 740 592.5 730 600 717.5 605 705 600 697.5 615 710 622 680 622 690 605 700 595ZM785 562.5 800 557.5 807.5 565 802.5 580 790 585ZM810 555 825 547.5 835 552.5 820 560ZM870 535 892.5 522.5 905 530 932.5 530 945 525 962.5 530 977.5 542.5 1000 552.5 980 560 972.5 570 955 562.5 945 560 927.5 552.5 912.5 550 905 557.5 892.5 550 880 552.5ZM842.5 562.5 860 552.5 875 557.5 887.5 572.5 880 580 865 575 855 580 842.5 575ZM905 595 922.5 580 932.5 590 945 585 955 597.5 1002.5 597.5 980 580 990 562.5 1002.5 555 1016 560 1016 590 975 610 940 605 915 602.5 887.5 622 880 622 892.5 605ZM755 622 765 610 785 605 805 605 820 600 850 590 867.5 597.5 880 622ZM762.5 533.8 770 527.5 778.8 533.8 772.5 540ZM475 580 495 577.5 515 590 530 585 540 590 530 600 512.5 597.5 500 605 480 592.5ZM570 605 580 600 590 605 585 622 565 622Z"/>
<path fill="#17becf" d="M647.5 375 662.5 360 677.5 361.2 670 375 671.2 390 687.5 392.5 690 375 700 370 705 360 705 400 697.5 402.5 685 400 670 397.5 655 400 647.5 400ZM705 346.2 725 343.8 727.5 360 720 367.5 705 370ZM780 385 786.2 370 792.5 363.8 805 377.5 803.8 390 797.5 402.5 790 395ZM575 407.5 592.5 403.8 620 402.5 637.5 405 645 415 625 412.5 605 415 580 413.8ZM657.5 410 670 406.2 683.8 410 685 427.5 676.2 437.5 665 430 657.5 422.5ZM715 427.5 732.5 422.5 735 432.5 717.5 433.8ZM613.8 416.2 645 415 647.5 430 657.5 437.5 665 445 662.5 455 650 462.5 652.5 480 642.5 482.5 650 495 652.5 505 647.5 517.5 635 525 625 530 620 540 605 530 590 532.5 585 525 592.5 515 605 507.5 602.5 497.5 585 500 582.5 490 592.5 480 605 475 610 465 605 455 590 470 572.5 470 560 457.5 570 447.5 577.5 437.5 613.8 437.5ZM650 462.5 665 445 685 460 700 467.5 695 480 705 487.5 690 492.5 680 500 670 490 660 482.5 652.5 480ZM690 492.5 705 487.5 722.5 490 725 500 710 505 695 502.5ZM655 495 660 482.5 670 490 680 500 695 502.5 702.5 510 695 522.5 680 525 667.5 517.5 657.5 510ZM430 470 440 470 455 475 452.5 490 467.5 490 480 500 492.5 492.5 505 497.5 517.5 502.5 537.5 507.5 540 520 530 525 515 537.5 507.5 530 505 517.5 485 512.5 467.5 517.5 450 510 430 505ZM590 532.5 605 530 620 540 635 545 637.5 552.5 652.5 555 667.5 547.5 677.5 552.5 672.5 567.5 680 575 675 590 690 585 705 575 700 595 690 605 680 622 590 622 585 605 580 590 590 580 597.5 567.5 602.5 555 600 542.5ZM712.5 572.5 727.5 570 728.8 585 717.5 587.5ZM685 461.2 696.2 460 697.5 471.2 686.2 472.5Z"/>
<path fill="#e377c2" d="M705 323.8 742.5 325 757.5 347.5 780 342.5 800 345 797.5 355 787.5 357.5 780 370 780 385 790 395 797.5 402.5 803.8 390 812.5 375 827.5 377.5 825 390 816.2 387.5 810 400 812.5 410 827.5 413.8 840 415 845 425 840 437.5 830 447.5 820 470 805 490 800 505 780 517.5 762.5 515 755 502.5 750 490 740 505 730 532.5 717.5 522.5 712.5 505 725 500 722.5 490 705 487.5 695 480 700 467.5 685 460 665 445 657.5 437.5 676.2 437.5 685 427.5 683.8 410 705 400 705 370 720 367.5 727.5 360 725 343.8 705 346.2ZM670 375 677.5 361.2 705 360 700 370 690 375 687.5 392.5 671.2 390ZM638.8 405 655 400 670 397.5 670 406.2 657.5 410 657.5 422.5 665 430 657.5 437.5 647.5 430 645 415ZM867.5 405 877.5 400 888.8 405 887.5 420 877.5 425 870 415ZM532.5 378.8 557.5 367.5 560 375 555 395 547.5 385ZM485 450 492.5 446.2 500 455 495 465 486.2 460ZM533.8 450 547.5 448.8 550 460 537.5 463.8ZM448.8 495 455 477.5 465 490 467.5 498.8 455 502.5ZM475 495 487.5 490 492.5 497.5 482.5 505ZM518.8 487.5 527.5 481.2 536.2 492.5 532.5 501.2 520 496.2ZM447.5 512.5 467.5 507.5 477.5 515 455 527.5 448.8 525ZM582.5 470 592.5 462.5 605 465 610 470 600 480 590 480ZM562.5 497.5 570 482.5 580 482.5 585 492.5 580 502.5 570 502.5ZM585 502.5 602.5 492.5 610 500 605 510 590 515ZM617.5 510 635 500 647.5 495 650 505 655 510 657.5 525 645 527.5 635 525 625 530ZM580 530 590 532.5 600 542.5 602.5 555 595 565 585 555 577.5 542.5ZM635 530 655 525 680 525 685 537.5 682.5 547.5 667.5 547.5 652.5 555 637.5 552.5ZM652.5 480 670 477.5 680 482.5 670 490 660 482.5ZM840 465 855 462.5 857.5 475 870 473.8 872.5 490 860 495 850 500 840 485ZM785 590 790 585 805 580 810 562.5 820 560 835 552.5 850 542.5 855 552.5 877.5 560 865 566.2 855 580 842.5 580 830 590 820 600 805 605 780 610 775 600ZM745 580 762.5 590 775 600 780 610 765 610 750 600ZM550 562.5 565 557.5 580 567.5 590 580 580 590 570 585 560 590 550 580ZM540 602.5 560 597.5 572.5 605 565 622 530 622ZM665 555 677.5 552.5 680 565 667.5 570ZM710 582.5 720 580 727.5 592.5 715 597.5Z"/>
<path fill="#1f77b4" d="M553.8 346.2 557.5 325 570 311.2 580 310 590 315 600 307.5 610 311.2 618.8 316.2 610 321.2 592.5 325 582.5 330 565 335 562.5 347.5ZM705 380 740 377.5 747.5 365 752.5 358.8 767.5 358.8 772.5 362.5 760 377.5 747.5 380 725 392.5 717.5 405 715 417.5 705 416.2ZM823.8 390 827.5 377.5 855 391.2 877.5 400 867.5 405 855 415 840 420 832.5 405ZM807.5 420 820 422.5 835 415 830 430 815 432.5ZM680 540 692.5 525 705 510 712.5 505 717.5 522.5 730 532.5 740 505 750 490 755 502.5 762.5 515 780 517.5 800 505 805 490 820 470 830 447.5 840 437.5 845 425 855 430 870 437.5 892.5 437.5 880 447.5 855 450 842.5 455 840 465 840 485 850 500 860 495 872.5 490 880 480 887.5 500 897.5 505 905 530 892.5 522.5 870 535 855 530 850 542.5 835 552.5 825 547.5 810 555 800 557.5 785 562.5 790 585 785 590 775 580 767.5 595 762.5 590 745 580 730 570 717.5 567.5 705 575 690 585 675 590 680 575 672.5 567.5 677.5 552.5 682.5 547.5 685 537.5ZM905 530 920 527.5 945 552.5 945 560 927.5 552.5 912.5 550ZM505 560 525 542.5 525 530 540 520 547.5 505 565 512.5 560 522.5 570 537.5 580 552.5 585 565 580 567.5 565 557.5 550 562.5 547.5 572.5 537.5 565 525 567.5ZM452.5 455 460 451.2 470 457.5 480 456.2 480 465 465 467.5ZM498.8 445 513.8 443.8 515 453.8 500 455ZM625 552.5 635 547.5 636.2 560 630 565ZM657.5 590 667.5 585 680 590 670 600 660 602.5ZM880 460 892.5 453.8 900 462.5 890 470ZM857.5 465 873.8 462.5 875 473.8 858.8 475ZM890 427.5 902.5 421.2 903.8 430 892.5 437.5ZM655 460 662.5 450 670 462.5 662.5 470ZM705 457.5 722.5 452.5 723.8 460 707.5 466.2ZM525 598.8 543.8 597.5 545 611.2 526.2 612.5ZM707.5 608.8 730 607.5 730 622 707.5 622ZM830 606.2 845 605 843.8 622 830 622Z"/>
<path fill="#2ca02c" d="M865 420 872.5 417.5 877.5 425 870 430ZM842.5 502.5 855 487.5 865 502.5 855 505Z"/>
<path fill="#bcbd22" d="M762.5 533.8 770 527.5 778.8 533.8 772.5 540Z"/>
<path fill="#9467bd" d="M742.5 605 755 605 755 620 742.5 620ZM862.5 597.5 875 597.5 875 612.5 862.5 612.5Z"/>
<path fill="#bcbd22" d="M430 632.5 440 635 448.8 641.2 440 650 430 648.8ZM430 680 442.5 687.5 462.5 700 460 717.5 447.5 732.5 435 742.5 430 740ZM537.5 625 547.5 615 570 622.5 555 632.5 545 640ZM497.5 613.8 512.5 613.8 512.5 632.5 498.8 631.2ZM757.5 610 780 607.5 800 600 860 600 855 610 872.5 622.5 897.5 601.2 920 600 925 620 905 625 902.5 637.5 935 637.5 937.5 675 955 700 977.5 720 977.5 745 967.5 752.5 955 740 940 750 927.5 745 910 752.5 892.5 750 880 742.5 890 730 887.5 710 877.5 705 855 720 852.5 730 845 725 855 700 870 695 887.5 685 900 665 880 662.5 855 675 840 662.5 830 650 820 632.5 810 640 797.5 630 780 640 765 632.5 755 622.5Z"/>
<path fill="#2ca02c" d="M810 622.5 830 622.5 835 640 820 645ZM902.5 615 920 610 935 637.5 915 650 905 637.5ZM825 670 840 660 867.5 675 880 685 870 695 855 682.5 840 677.5Z"/>
<path fill="#bcbd22" d="M745 730 750 710 777.5 707.5 787.5 710 800 710 810 705 822.5 707.5 830 715 820 727.5 805 730 790 747.5 800 760 820 755 832.5 741.2 845 755 855 765 870 760 867.5 780 860 795 840 807.5 832.5 797.5 820 790 807.5 775 797.5 760 785 750 775 740 760 735ZM683.8 765 692.5 757.5 705 772.5 717.5 782.5 718.8 790 705 790 695 780 685 775ZM525 815 545 805 570 795 590 785 605 795 605 815 610 830 627.5 840 635 857.5 642.5 850 660 847.5 665 865 657.5 870 670 872.5 670 880 690 877.5 688.8 895 690 910 650 903.8 650 932.5 682.5 933.8 680 960 667.5 970 666.2 977.5 630 962.5 610 980 605 992 565 992 555 955 562.5 945 565 913.8 553.8 912.5 552.5 903.8 537.5 875 551.2 868.8 570 861.2 592.5 860 600 845 580 837.5 565 840 555 830 535 820ZM660 807.5 677.5 803.8 690 807.5 705 812.5 717.5 822.5 725 830 728.8 842.5 730 857.5 747.5 867.5 752.5 876.2 760 892.5 755 915 747.5 910 730 905 717.5 897.5 712.5 875 702.5 872.5 685 875 685 840 690 835 665 835 662.5 822.5ZM742.5 807.5 750 790 765 772.5 780 787.5 800 792.5 820 805 827.5 815 840 807.5 860 795 867.5 780 887.5 782.5 900 772.5 927.5 775 925 800 915 820 937.5 812.5 953.8 825 955 865 940 860 892.5 862.5 880 842.5 865 847.5 830 842.5 815 847.5 800 852.5 762.5 850 755 837.5 745 825Z"/>
<path fill="#2ca02c" d="M827.5 815 840 807.5 860 795 882.5 800 870 812.5 855 817.5 850 832.5 835 835ZM887.5 782.5 900 772.5 927.5 775 925 800 915 820 897.5 815 900 797.5Z"/>
<path fill="#bcbd22" d="M765 887.5 780 877.5 800 885 830 875 842.5 887.5 872.5 892.5 867.5 900 872.5 917.5 855 920 842.5 930 830 922.5 815 910 800 897.5 780 897.5ZM950 792.5 960 775 977.5 767.5 997.5 785 1016 800 1016 815 997.5 821.2 967.5 812.5ZM990 623.8 1005 630 1016 635 1016 642.5 1007.5 657.5 995 672.5 992.5 650ZM430 823.8 453.8 823.8 490 822.5 505 828.8 522.5 815 525 840 530 850 526.2 861.2 510 856.2 495 860 497.5 882.5 505 900 522.5 898.8 512.5 907.5 517.5 925 525 935 512.5 925 480 912.5 475 922.5 477.5 937.5 455 947.5 430 942.5 430 915 443.8 916.2 445 907.5 462.5 900 480 897.5 470 875 467.5 857.5 475 850 455 840 430 840Z"/>
<path fill="#2ca02c" d="M467.5 857.5 475 850 500 875 502.5 897.5 480 897.5 470 875Z"/>
<path fill="#bcbd22" d="M782.5 950 792.5 940 810 947.5 821.2 955 810 960 805 967.5 790 970Z"/>
<path fill="#9467bd" d="M458.8 710 462.5 695 475 687.5 487.5 652.5 500 642.5 515 650 535 645 555 632.5 570 622.5 590 625 605 635 610 642.5 615 665 622.5 677.5 635 675 637.5 665 655 670 665 680 675 670 687.5 667.5 702.5 665 705 655 715 645 730 660 745 647.5 750 635 765 632.5 780 640 797.5 630 815 645 837.5 658.8 822.5 675 810 705 800 710 787.5 710 777.5 707.5 750 710 745 730 652.5 730 652.5 710 645 707.5 642.5 720 627.5 725 625 730 590 730 590 750 605 750 602.5 760 607.5 775 590 785 570 795 545 805 525 815 522.5 802.5 512.5 810 492.5 807.5 490 790 480 775 480 762.5 495 772.5 500 760 502.5 747.5 492.5 740 480 730 467.5 720Z"/>
<path fill="#bcbd22" d="M510 710 517.5 695 530 705 540 717.5 550 725 545 730 530 722.5 515 722.5ZM552.5 750 557.5 730 570 740 580 750 583.8 762.5 572.5 765 562.5 755Z"/>
<path fill="#2ca02c" d="M512.5 762.5 530 752.5 545 750 552.5 760 537.5 775 522.5 772.5ZM500 780 517.5 772.5 537.5 780 546.2 786.2 530 795 510 797.5Z"/>
<path fill="#bcbd22" d="M607.5 687.5 615 675 627.5 680 640 677.5 647.5 685 665 687.5 677.5 697.5 665 705 650 707.5 645 695 630 692.5 620 695ZM721.2 702.5 730 696.2 737.5 702.5 730 708.8ZM790 675 800 667.5 825 671.2 820 680 805 677.5 792.5 685ZM767.5 676.2 783.8 675 785 684.5 768.8 685Z"/>
<path fill="#2ca02c" d="M591.2 698.8 602.5 695 605 702.5 595 705Z"/>
<path fill="#9467bd" d="M690 740 700 735 717.5 740 737.5 747.5 735 760 725 755 712.5 750 705 760 712.5 772.5 705 775 695 762.5ZM867.5 757.5 880 743.8 892.5 750 891.2 770 870 765ZM670 786.2 680 782.5 700 792.5 697.5 798.8 682.5 795ZM641.2 796.2 653.8 795 655 807 642 807.5ZM605 800 615 797.5 625 810 620 815 610 807.5ZM610 817.5 620 820 630 837.5 642.5 830 655 832.5 660 840 650 840 637.5 850 627.5 840 615 830ZM747.5 867.5 755 860 767.5 865 786.2 855 785 865 778.8 875 767.5 870 752.5 876.2Z"/>
<path fill="#bcbd22" d="M615 800 630 797.5 637.5 810 630 820 620 815Z"/>
<path fill="#1f77b4" d="M585 722.5 600 710 612.5 711.2 620 710 627.5 717.5 626.2 725 615 720 605 725 595 727.5ZM623.8 730 645 730 647.5 737.5 656.2 737.5 657.5 731.2 691.2 730 690 755 685 770 687.5 780 677.5 782.5 670 786.2 660 780 642.5 781.2 632.5 770 626.2 752.5ZM600 767.5 610 762.5 622.5 760 630 775 640 782.5 642.5 800 645 807.5 635 800 622.5 795 620 782.5 610 775ZM655 790 670 787.5 682.5 795 697.5 798.8 705 795 715 791.2 720 800 737.5 797.5 741.2 815 743.8 842.5 728.8 842.5 725 830 717.5 822.5 705 812.5 690 807.5 677.5 803.8 665 807.5 660 800ZM642.5 825 647.5 805 665 807.5 667.5 822.5 662.5 835 653.8 828.8ZM437.5 667.5 455 655 480 647.5 495 662.5 505 682.5 490 697.5 475 687.5 472.5 672.5 460 675 450 672.5ZM458.8 802.5 467.5 795 482.5 805 495 807.5 502.5 817.5 511.2 820 503.8 828.8 497.5 822.5 482.5 817.5 462.5 810ZM476.2 612.5 500 613.8 512.5 612.5 525 615 530 625 545 632.5 540 640 525 635 515 637.5 512.5 625 497.5 622.5 480 622.5ZM525 600 542.5 600 532.5 615 526.2 612.5ZM702.5 637.5 710 615 725 612.5 742.5 617.5 743.8 625 730 630 737.5 642.5 730 660 715 645 705 655ZM808.8 703.8 821.2 675 830 685 838.8 691.2 830 700 835 715 852.5 722.5 845 725 830 715 822.5 707.5ZM843.8 735 863.8 742.5 855 745 856.2 755 845 752.5ZM932.5 762.5 942.5 761.2 942.5 785 948.8 797.5 945 810 953.8 825 945 820 937.5 810 941.2 800 940 787.5 935 775ZM650 903.8 670 902.5 680 906.2 690 910 683.8 917.5 686.2 932.5 650 932.5ZM827.5 621.2 835 607.5 842.5 603.8 837.5 615 832.5 622.5ZM777.5 600 800 600 797.5 608.8 780 610ZM612.5 825 620 820 630 837.5 625 840Z"/>
<path fill="#17becf" d="M590 600 702.5 600 700 625 695 640 700 650 685 660 670 665 655 670 647.5 675 642.5 662.5 630 642.5 610 642.5 605 635 590 625 605 620 610 610ZM507.5 882.5 516.2 872.5 526.2 882.5 527.5 892.5 520 898.8 512.5 890ZM526.2 920 540 917.5 547.5 912.5 548.8 902.5 552.5 903.8 553.8 912.5 565 913.8 561.2 947.5 553.8 953.8 545 942.5 532.5 935ZM430 915 443.8 916.2 445 928.8 430 930Z"/>
<path fill="#e377c2" d="M532.5 615 542.5 600 570 600 566.2 610 580 607.5 590 600 610 610 605 620 590 625 570 622.5 555 617.5 540 617.5ZM615 620 630 615 645 622.5 642.5 635 627.5 632.5ZM655 615 677.5 612.5 695 625 690 632.5 670 630ZM635 662.5 647.5 661.2 647.5 675 637.5 675ZM695 640 707.5 642.5 705 655 697.5 657.5ZM750 600 777.5 600 775 607.5 755 608.8ZM495 860 510 856.2 512.5 862.5 537.5 863.8 551.2 868.8 537.5 875 532.5 890 522.5 898.8 505 900 497.5 882.5Z"/>
<path fill="#17becf" d="M507.5 882.5 516.2 872.5 526.2 882.5 527.5 892.5 520 898.8 512.5 890Z"/>
</g>
<use href="#ho"/>
<g clip-path="url(#cp)"><text class="at" x="7" y="1332.5" textLength="717" lengthAdjust="spacingAndGlyphs">(C) OpenStreetMap contributors (C) CARTO</text></g>
</g>
<text class="t" x="695.5" y="1514.5" text-anchor="middle" textLength="750" lengthAdjust="spacingAndGlyphs">gaussian_mixture (0.084)</text>
<g transform="translate(1536 1539)">
<use href="#bm"/>
<g opacity="0.6" clip-path="url(#co)">
<use href="#ol" fill="#bcbd22"/>
<path fill="#1f77b4" d="M671.2 165.5 705 165.5 705 200 698.8 198.8 692.5 202.5 695 193.8 675 182.5 682.5 176.2ZM846.2 192 862.5 198.8 868.8 211.2 865 227.5 867.5 247.5 860 241.2 847.5 240 827.5 227.5 817.5 224.2 830 216.2 841.2 203.8ZM770 283.8 793.8 278.2 798 292.5 793.8 300 782.5 298.8 782 308.8 786.2 317.5 797.5 315 793.8 330 787.5 320 783.8 320 773.8 332.5 758.8 332.5 755 320 777.5 310 776.2 302.5 761.2 298.8ZM828.8 318.8 850 315 870 315 880 307.5 881.2 320 867.5 331.2 871.2 336.2 862.5 340 857.5 350 846.2 356.2 840 347.5 841.2 330 833.8 325ZM647.5 313.8 667.5 310.8 677 316.2 666.2 330 657.5 352.5 653.8 340 648.8 330ZM611.2 355 623.8 342.5 633 348.8 636.2 370 632.5 381.2 625 386.2 617.5 375 612.5 365ZM533.8 378.8 547.5 373.8 553.8 368 559.5 368.8 559.5 387.5 552.5 395 545 386.2ZM518 401.2 533.8 396.2 540 392 542 397.5 546.2 400 538.8 412.5 528.8 408.8 520 410ZM575 407.5 592.5 406.2 602.5 402.5 627.5 403 631.2 407.5 612.5 415 592.5 417.5 580 415.5ZM705 323.8 755 323 758.8 335 762.5 348.8 772.5 345.5 792.5 343.8 798.8 348.8 788.8 356.2 805 376.2 815 373.8 826.2 376.2 826.2 386.2 816.2 387.5 807.5 410 805 425 812.5 432.5 828.8 425 837.5 417 848.8 423.8 847.5 428.8 840 427.5 830 431.2 838.8 440 845 441.2 830 457.5 816.2 475 805 492.5 828.8 486.2 815 496.2 822.5 506.2 810 502.5 797.5 505 780 520 775 512.5 787.5 502.5 768.8 475 755 467.5 745 482.5 755 487.5 751.2 500 737.5 510 732.5 500 715 510 697.5 515 687.5 505 692.5 482.5 680 472.5 687.5 460 672.5 462.5 687.5 442.5 680 431.2 645 426.2 645 400 665 400 680 402.5 692.5 396.2 705 393.8ZM600 423.8 612.5 422.5 645 426.2 663.8 430 680 431.2 687.5 442.5 672.5 462.5 687.5 460 680 472.5 665 477.5 675 487.5 662.5 487.5 655 502.5 652.5 510 665 517.5 692.5 527.5 697.5 542 590 542 580 520 567.5 510 560 497.5 567.5 492.5 566.2 477.5 580 470 575 462.5 560 460 565 452.5 576.2 446.2 576.2 428.8 587.5 430ZM485 453.8 491.2 448.8 498.8 451.2 493.8 466.2 488.8 462.5ZM513.8 445 525 437.5 531.2 445 522.5 450ZM827.5 467.5 840 462.5 857.5 464.5 853.8 475 848.8 482.5 848.8 495 845 492.5 843.8 480 835 482.5 830 477.5ZM955 401.2 945 435 927.5 438.8 910 453.8 910 458.8 903.8 462.5 895 453.8 895 442.5 905 436.2 917.5 433.8 927.5 422.5ZM720 525 742.5 517.5 732.5 535 727.5 532.5ZM835 531.2 842.5 530 855 542 840 542Z"/>
<path fill="#bcbd22" d="M746.2 365 755 358.8 765 361.2 771.2 363.8 755 378.8 748.8 372.5ZM703.8 400 717.5 400 717.5 418.8 707.5 417.5 703.8 415ZM663.8 441.2 680 437.5 677.5 450 670 460 660 455Z"/>
<path fill="#e377c2" d="M647 375 652.5 365 662.5 360.5 704.2 360 704.2 393.8 692.5 396.2 680 402.5 665 400 652.5 397.5 647 385ZM663.8 412.5 677.5 407.5 685 410 685 428.8 680 431.2 663.8 421.2ZM613.8 415 630 406.2 642.5 410 645.5 426.2 613.8 422.5ZM670 500 680 496.2 683.8 502.5 692.5 505 680 513.8 672.5 507.5Z"/>
<path fill="#2ca02c" d="M755 378 773.8 363 784.5 375 781.2 386.2 767.5 385ZM767.5 385 781.2 386.2 786.2 390 792.5 402.5 775 418.8 765 410 767.5 396.2ZM755 402.5 765 410 762.5 425 752.5 420 751.2 410ZM700 432.5 712.5 418.8 727.5 418.8 732.5 422.5 720 425 710 435 720 445 717.5 452.5 705 445ZM763.8 426.2 776.2 437.5 778.8 446.2 795 453.8 780 465 757.5 467.5 748.8 480 743.8 475 748.8 460 738.8 451.2 745 450 752.5 453.8 755 442.5ZM732.5 473.8 737.5 470 743.8 477.5 740 481.2ZM783.8 483.8 790 480 797.5 487.5 801.2 497.5 796.2 500 787.5 492.5ZM820 440 830 432.5 837.5 441.2 831.2 447.5ZM647.5 525 652.5 522.5 665 525 660 542 652.5 542 648.8 535Z"/>
<path fill="#17becf" d="M568.8 323.8 585 316.2 597.5 315 600 307.5 603.8 307.5 605 311.2 615 315 617.5 321.2 597.5 326.2 587.5 322.5 571.2 330ZM661.2 468.8 670 465 666.2 472.5ZM751.2 511.2 757.5 507.5 762.5 512.5 761.2 520 753.8 520ZM800 505 810 503 817.5 515 805 512.5ZM690 532.5 705 525 720 525 727.5 532.5 740 530 755 542 692.5 542ZM771.2 530 790 527.5 803.8 523.8 805 542 780 542ZM538.8 537.5 547.5 532.5 555 536.2 557.5 542 540 542ZM807.5 526.2 815 525 818 538.8 812.5 537.5Z"/>
<path fill="#9467bd" d="M555 331.2 561.2 320 565 322.5 565 332.5 570 325 575 333.8 565 336.2 562.5 347.5 554.5 347 558.8 337.5ZM740 532.5 746.2 530 753.8 542 742.5 542Z"/>
<path fill="#1f77b4" d="M565 500 652.5 500 652.5 522.5 665 525 672.5 537.5 680 542.5 685 557.5 677.5 575 692.5 585 707.5 580 705 595 700 600 701.2 630 700 660 685 660 665 662.5 652.5 677.5 636.2 673.8 630 660 627.5 640 630 630 627.5 617.5 615 615 597.5 607.5 590 600 577.5 590 587.5 580 597.5 572.5 585 565 575 555 587.5 557.5 585 542.5 577.5 532.5 565 520ZM545 585 548.8 576.2 557.5 571.2 565 575 576.2 570 590 572.5 595 577.5 585 582.5 577.5 590 562.5 593.8 546.2 593.8ZM532.5 616.2 545 600 555 596.2 572.5 598.8 570 610 555 607.5 542.5 616.2ZM573.8 617.5 582.5 607.5 597.5 610 615 625 630 630 630 640 615 637.5 597.5 625 587.5 620ZM672.5 537.5 687.5 532.5 685 541.2ZM767.5 572.5 773.8 567.5 785 580 795 573.8 805 572.5 803.8 563.8 812.5 558.8 820 565 815 575 817.5 585 805 600 800 600 797.5 587.5 785 592.5 778.8 610 755 611.2 747.5 600 748.8 595 760 588.8 767.5 595 771.2 585ZM835 531.2 840 531.2 847.5 540 853.8 537.5 841.2 582.5 821.2 562.5 835 553.8 842.5 546.2ZM710 580 721.2 576.2 726.2 571.2 727.5 582.5 716.2 598.8 711.2 590ZM495 860 510 856.2 511.2 867.5 538.8 863.8 551.2 868.8 537.5 875 532.5 892 498.8 892Z"/>
<path fill="#bcbd22" d="M628 549.5 636.2 550 635.5 561.2 628 560ZM636.2 544.5 652.5 543.8 652.5 550 637 550Z"/>
<path fill="#e377c2" d="M612.5 562.5 617.5 548.8 627.5 547.5 627.5 560 635 560 635 575 652.5 565 652.5 557.5 666.2 562.5 665 570 652.5 577.5 652.5 587.5 640 595 630 592.5 632.5 605 627.5 612.5 620 620 610 617.5 612.5 610 592.5 607.5 590 595 577.5 590 587.5 580 605 570 620 570ZM660 636.2 675 631.2 676.2 640 673.8 650 663.8 646.2ZM627.5 620 633.8 617.5 631.2 625ZM640 593.8 647 591.2 647.5 603.8 642.5 605Z"/>
<path fill="#1f77b4" d="M606.2 592.5 617.5 591.2 618.8 598.8 607.5 600Z"/>
<path fill="#17becf" d="M538.8 542.5 542.5 533.8 552.5 533.8 562.5 541.2 568.8 550 565 561.2 555 560 550 553.8 541.2 555ZM690 535 700 525 708.8 526.2 708.8 531.2 720 525 726.2 533.8 740 528.8 742.5 540 730 545 715 556.2 702.5 557.5 700 552.5 706.2 545 703.8 537.5 692.5 540ZM752.5 538.8 765 533.8 778.8 540 786.2 541.2 786.2 548.8 776.2 548.8 767.5 552.5 778.8 561.2 775 567.5 765 571.2 756.2 562.5 745 571.2 736.2 557.5 747.5 551.2 755 551.2ZM771.2 528.8 790 527.5 792.5 535 801.2 533.8 803.8 541.2 796.2 546.2 788.8 541.2 786.2 541.2 778.8 540ZM808.8 526.2 816.2 525 818.8 537.5 813.8 538.8ZM791.2 523.8 803.8 522.5 805 528.8 792.5 529.5ZM685 572.5 693.8 567.5 695.5 572.5 685 582.5 680 580ZM656.2 598.8 667.5 595 670 598.8 660 603ZM666.2 590 677.5 585 680 588.8 670 596.2ZM808 705 821.2 675 831.2 686.2 839.2 692.5 830 695 823.8 703.8 813.8 706.2ZM631.2 768.8 643.8 770 642.5 781.2 637.5 775ZM697.5 790 701.2 785 702 797.5 698.8 797.5Z"/>
<path fill="#9467bd" d="M528.8 553.8 536.2 548 541.2 548.8 542.5 555.5ZM723.8 551.2 732.5 548.8 736.2 557.5 742.5 567.5 738.8 570.5 732.5 563.8 726.2 562.5ZM740 535 745 531.2 752.5 538.8 755 551.2 767.5 552.5 776.2 548.8 785 560 777.5 561.2 767.5 556.2 760 560 751.2 552.5 746.2 542.5Z"/>
<path fill="#2ca02c" d="M647.5 523.8 652.5 522.5 655 528.8 663.8 526.2 665 530 658.8 532.5 658.8 546.2 653.8 546.2 653.8 535 647.5 535Z"/>
<path fill="#1f77b4" d="M430.5 470 450 473.8 465 480 475 477.5 483.8 480 481.2 488.8 492.5 491.2 497.5 485 510 497.5 521.2 487.5 526.2 482.5 536.2 492.5 531.2 498.8 538.8 507.5 537.5 517.5 526.2 525 517.5 530 512.5 541.2 507.5 532.5 498.8 542.5 491.2 536.2 483.8 538.8 482.5 532.5 488.8 530 486.2 522.5 478.8 520 472.5 527.5 471.2 555 460 548.8 452.5 535 448.8 536.2 448.8 554.5 439.2 553.8 438.8 523.8 430.5 523ZM494.5 860 510.8 856.2 511.2 863.8 538.8 863.8 550.8 869.2 540 873.8 535 881.2 532.5 890 527.5 895 530 906.2 536.2 915 550 908.8 550 902.5 552.5 902.5 552.5 912.5 573.8 910 575 903.8 583.8 905 582.5 910 610 908.8 628.8 910 631.2 917.5 626.2 918.8 628.8 930 632.5 940 631.2 956.2 626.2 960 615 956.2 612.5 948.8 597.5 945 583.8 946.2 572.5 946.2 560 948.8 553.8 953.8 546.2 942.5 532.5 938.8 517.5 927.5 511.2 912.5 500 890 496.2 873.8ZM426.2 913.8 437.5 915.5 445 917.5 445 929.5 437 929.5 432.5 920Z"/>
</g>
<use href="#ho"/>
<g clip-path="url(#cp)"><text class="at" x="7" y="1332.5" textLength="717" lengthAdjust="spacingAndGlyphs">(C) OpenStreetMap contributors (C) CARTO</text></g>
</g>
<text class="t" x="2201.5" y="1514.5" text-anchor="middle" textLength="467" lengthAdjust="spacingAndGlyphs">spectral (0.241)</text>
<g stroke="#000" stroke-width="3.33" fill="none">
<rect x="3024.8" y="1539.1" width="1364.5" height="1340.3" stroke-linejoin="miter"/>
<path d="M3024.8 2879.4 v14.6M3024.8 2879.4 h-14.6"/>
<path d="M3297.7 2879.4 v14.6M3024.8 2611.3 h-14.6"/>
<path d="M3570.6 2879.4 v14.6M3024.8 2343.3 h-14.6"/>
<path d="M3843.5 2879.4 v14.6M3024.8 2075.2 h-14.6"/>
<path d="M4116.4 2879.4 v14.6M3024.8 1807.2 h-14.6"/>
<path d="M4389.3 2879.4 v14.6M3024.8 1539.1 h-14.6"/>
</g>
<text class="k" x="3024.8" y="2939.4" text-anchor="middle" textLength="66" lengthAdjust="spacingAndGlyphs">0.0</text>
<text class="k" x="2995.8" y="2894.9" text-anchor="end" textLength="66" lengthAdjust="spacingAndGlyphs">0.0</text>
<text class="k" x="3297.7" y="2939.4" text-anchor="middle" textLength="66" lengthAdjust="spacingAndGlyphs">0.2</text>
<text class="k" x="2995.8" y="2626.8" text-anchor="end" textLength="66" lengthAdjust="spacingAndGlyphs">0.2</text>
<text class="k" x="3570.6" y="2939.4" text-anchor="middle" textLength="66" lengthAdjust="spacingAndGlyphs">0.4</text>
<text class="k" x="2995.8" y="2358.8" text-anchor="end" textLength="66" lengthAdjust="spacingAndGlyphs">0.4</text>
<text class="k" x="3843.5" y="2939.4" text-anchor="middle" textLength="66" lengthAdjust="spacingAndGlyphs">0.6</text>
<text class="k" x="2995.8" y="2090.7" text-anchor="end" textLength="66" lengthAdjust="spacingAndGlyphs">0.6</text>
<text class="k" x="4116.4" y="2939.4" text-anchor="middle" textLength="66" lengthAdjust="spacingAndGlyphs">0.8</text>
<text class="k" x="2995.8" y="1822.7" text-anchor="end" textLength="66" lengthAdjust="spacingAndGlyphs">0.8</text>
<text class="k" x="4389.3" y="2939.4" text-anchor="middle" textLength="66" lengthAdjust="spacingAndGlyphs">1.0</text>
<text class="k" x="2995.8" y="1554.6" text-anchor="end" textLength="66" lengthAdjust="spacingAndGlyphs">1.0</text>
</svg></body></html>
